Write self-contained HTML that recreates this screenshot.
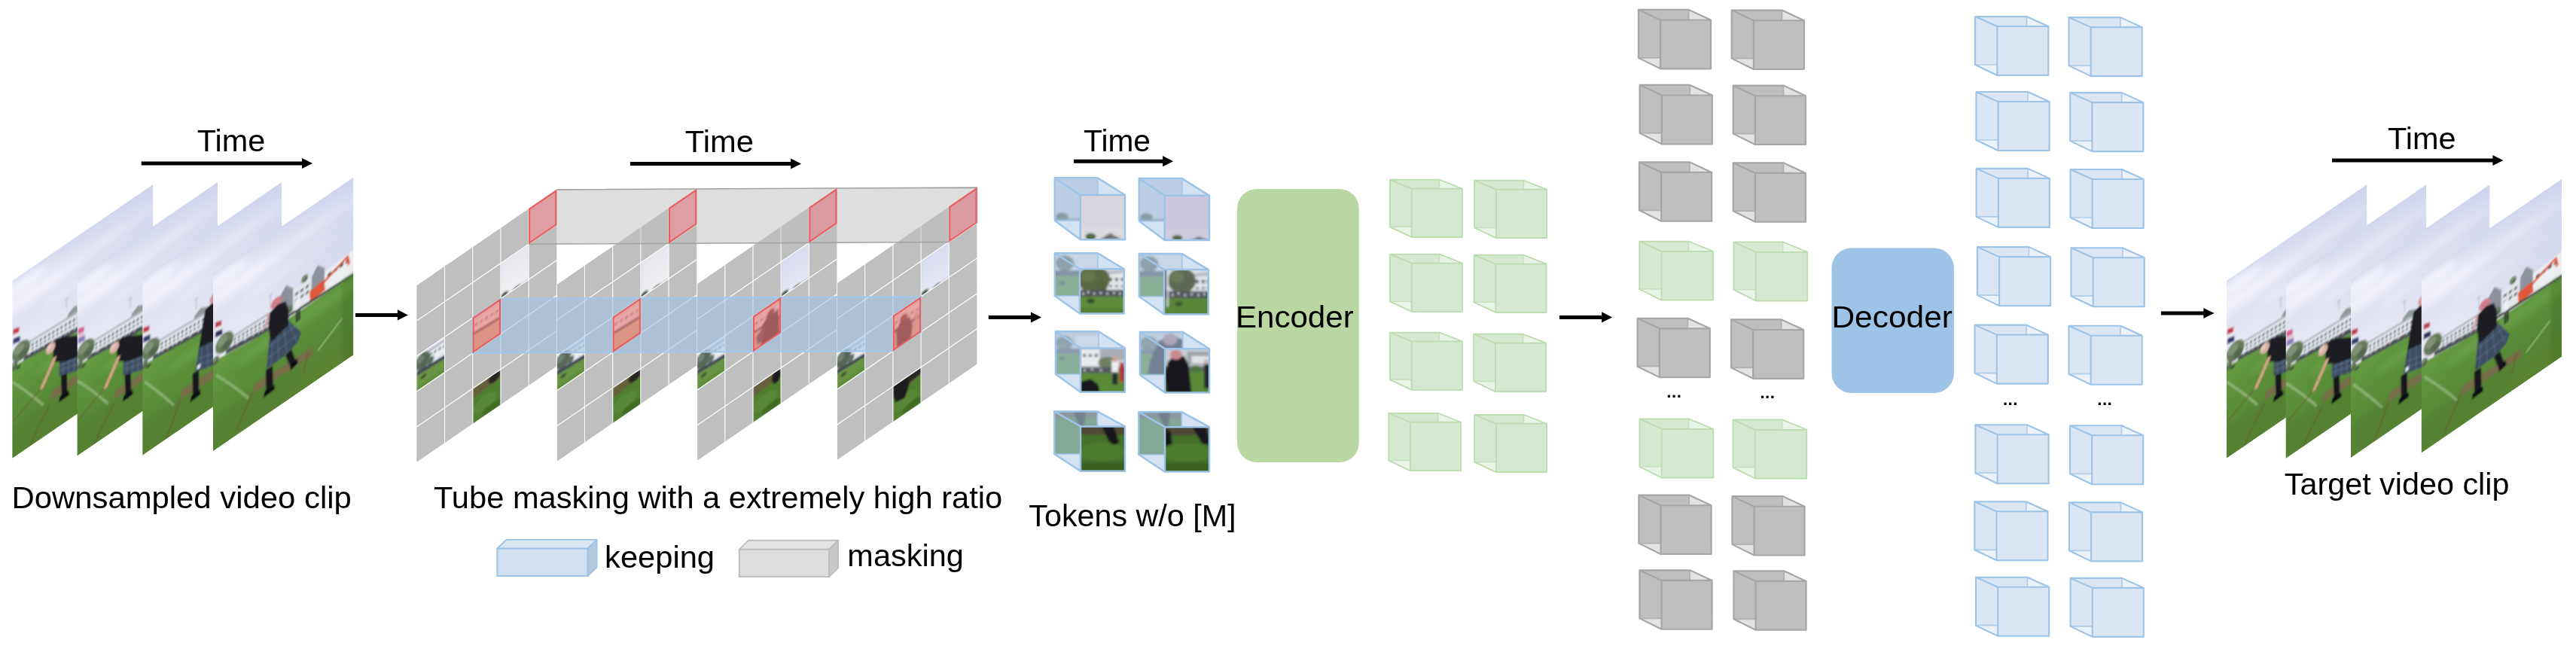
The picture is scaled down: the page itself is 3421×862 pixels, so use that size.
<!DOCTYPE html>
<html><head><meta charset="utf-8"><title>VideoMAE pipeline</title>
<style>html,body{margin:0;padding:0;background:#fff}svg{display:block}</style></head><body>
<svg width="3421" height="862" viewBox="0 0 3421 862" font-family="'Liberation Sans', Arial, sans-serif" fill="#000">
<defs>
<filter id="b1" x="-5%" y="-5%" width="110%" height="110%"><feGaussianBlur stdDeviation="0.95"/></filter>
<filter id="b2" x="-20%" y="-20%" width="140%" height="140%"><feGaussianBlur stdDeviation="2.2"/></filter>
<filter id="b3" x="-20%" y="-20%" width="140%" height="140%"><feGaussianBlur stdDeviation="5"/></filter>
<linearGradient id="sky" x1="0" y1="0" x2="0" y2="1"><stop offset="0" stop-color="#d5daf0"/><stop offset="0.07" stop-color="#e1e4f4"/><stop offset="0.15" stop-color="#ececf7"/><stop offset="0.25" stop-color="#e1e2f2"/><stop offset="0.36" stop-color="#e6e7f4"/><stop offset="0.5" stop-color="#e9e9f3"/><stop offset="1" stop-color="#ececf2"/></linearGradient>
<linearGradient id="grass" x1="0" y1="0" x2="0.25" y2="1"><stop offset="0" stop-color="#689c45"/><stop offset="0.35" stop-color="#5c903b"/><stop offset="0.75" stop-color="#578736"/><stop offset="1" stop-color="#5a8333"/></linearGradient>
<linearGradient id="skyr" x1="0" y1="0" x2="1" y2="0"><stop offset="0.25" stop-color="#c4cbec" stop-opacity="0"/><stop offset="1" stop-color="#c4cbec" stop-opacity="0.5"/></linearGradient>
<clipPath id="fc"><rect x="0" y="0" width="186" height="238"/></clipPath>
<g id="sc1"><g filter="url(#b1)"><rect x="-2" y="-2" width="190" height="242" fill="url(#sky)"/><g filter="url(#b3)" opacity="0.7"><ellipse cx="40" cy="36" rx="60" ry="7" fill="#f4f4fb"/><ellipse cx="150" cy="30" rx="50" ry="6" fill="#f6f6fc"/><ellipse cx="110" cy="62" rx="70" ry="8" fill="#efeff8"/><ellipse cx="14" cy="14" rx="32" ry="9" fill="#f8f8fd"/></g><rect x="-2" y="-2" width="190" height="110" fill="url(#skyr)"/><path d="M72 74V86M69.5 74h5" stroke="#a4a7b4" stroke-width="0.8" fill="none"/><polygon points="72,104 74,96 82,91 92,96 94,108" fill="#8f9a96" /><polygon points="23,96.5 190,108 190,140 23,117" fill="#e4e8ec" /><polygon points="23,96.5 190,108 190,111 23,99" fill="#aab1bb" /><rect x="25.5" y="102.46" width="2.6" height="3.31" fill="#56606d"/><rect x="25.5" y="108.04" width="2.6" height="2.69" fill="#6a7480"/><rect x="31" y="102.95" width="2.6" height="3.37" fill="#56606d"/><rect x="31" y="108.63" width="2.6" height="2.74" fill="#6a7480"/><rect x="36.5" y="103.43" width="2.6" height="3.43" fill="#56606d"/><rect x="36.5" y="109.22" width="2.6" height="2.79" fill="#6a7480"/><rect x="42" y="103.91" width="2.6" height="3.49" fill="#56606d"/><rect x="42" y="109.8" width="2.6" height="2.84" fill="#6a7480"/><rect x="47.5" y="104.4" width="2.6" height="3.55" fill="#56606d"/><rect x="47.5" y="110.39" width="2.6" height="2.88" fill="#6a7480"/><rect x="53" y="104.88" width="2.6" height="3.61" fill="#56606d"/><rect x="53" y="110.98" width="2.6" height="2.93" fill="#6a7480"/><rect x="58.5" y="105.37" width="2.6" height="3.67" fill="#56606d"/><rect x="58.5" y="111.56" width="2.6" height="2.98" fill="#6a7480"/><rect x="64" y="105.85" width="2.6" height="3.73" fill="#56606d"/><rect x="64" y="112.15" width="2.6" height="3.03" fill="#6a7480"/><rect x="69.5" y="106.34" width="2.6" height="3.79" fill="#56606d"/><rect x="69.5" y="112.74" width="2.6" height="3.08" fill="#6a7480"/><rect x="75" y="106.82" width="2.6" height="3.85" fill="#56606d"/><rect x="75" y="113.33" width="2.6" height="3.13" fill="#6a7480"/><rect x="80.5" y="107.31" width="2.6" height="3.91" fill="#56606d"/><rect x="80.5" y="113.91" width="2.6" height="3.18" fill="#6a7480"/><rect x="86" y="107.79" width="2.6" height="3.97" fill="#56606d"/><rect x="86" y="114.5" width="2.6" height="3.23" fill="#6a7480"/><rect x="91.5" y="108.28" width="2.6" height="4.03" fill="#56606d"/><rect x="91.5" y="115.09" width="2.6" height="3.28" fill="#6a7480"/><rect x="97" y="108.76" width="2.6" height="4.1" fill="#56606d"/><rect x="97" y="115.67" width="2.6" height="3.33" fill="#6a7480"/><rect x="102.5" y="109.25" width="2.6" height="4.16" fill="#56606d"/><rect x="102.5" y="116.26" width="2.6" height="3.38" fill="#6a7480"/><rect x="108" y="109.73" width="2.6" height="4.22" fill="#56606d"/><rect x="108" y="116.85" width="2.6" height="3.43" fill="#6a7480"/><rect x="113.5" y="110.22" width="2.6" height="4.28" fill="#56606d"/><rect x="113.5" y="117.43" width="2.6" height="3.48" fill="#6a7480"/><rect x="119" y="110.7" width="2.6" height="4.34" fill="#56606d"/><rect x="119" y="118.02" width="2.6" height="3.52" fill="#6a7480"/><rect x="124.5" y="111.19" width="2.6" height="4.4" fill="#56606d"/><rect x="124.5" y="118.61" width="2.6" height="3.57" fill="#6a7480"/><rect x="130" y="111.67" width="2.6" height="4.46" fill="#56606d"/><rect x="130" y="119.2" width="2.6" height="3.62" fill="#6a7480"/><rect x="135.5" y="112.16" width="2.6" height="4.52" fill="#56606d"/><rect x="135.5" y="119.78" width="2.6" height="3.67" fill="#6a7480"/><rect x="141" y="112.64" width="2.6" height="4.58" fill="#56606d"/><rect x="141" y="120.37" width="2.6" height="3.72" fill="#6a7480"/><rect x="146.5" y="113.13" width="2.6" height="4.64" fill="#56606d"/><rect x="146.5" y="120.96" width="2.6" height="3.77" fill="#6a7480"/><rect x="152" y="113.61" width="2.6" height="4.7" fill="#56606d"/><rect x="152" y="121.54" width="2.6" height="3.82" fill="#6a7480"/><rect x="157.5" y="114.1" width="2.6" height="4.76" fill="#56606d"/><rect x="157.5" y="122.13" width="2.6" height="3.87" fill="#6a7480"/><rect x="163" y="114.58" width="2.6" height="4.82" fill="#56606d"/><rect x="163" y="122.72" width="2.6" height="3.92" fill="#6a7480"/><rect x="168.5" y="115.06" width="2.6" height="4.88" fill="#56606d"/><rect x="168.5" y="123.31" width="2.6" height="3.97" fill="#6a7480"/><rect x="174" y="115.55" width="2.6" height="4.94" fill="#56606d"/><rect x="174" y="123.89" width="2.6" height="4.02" fill="#6a7480"/><rect x="179.5" y="116.03" width="2.6" height="5" fill="#56606d"/><rect x="179.5" y="124.48" width="2.6" height="4.07" fill="#6a7480"/><rect x="185" y="116.52" width="2.6" height="5.06" fill="#56606d"/><rect x="185" y="125.07" width="2.6" height="4.12" fill="#6a7480"/><polygon points="15,112 190,135 190,141.5 15,118.5" fill="#4b5358" /><rect x="17" y="112.17" width="1.6" height="2.2" fill="#8f3d48"/><rect x="22" y="112.86" width="1.6" height="2.2" fill="#d8d8de"/><rect x="27" y="113.55" width="1.6" height="2.2" fill="#3b4a78"/><rect x="29" y="113.83" width="1.6" height="2.2" fill="#bfc4cc"/><rect x="34" y="114.51" width="1.6" height="2.2" fill="#c9ccd6"/><rect x="39" y="115.2" width="1.6" height="2.2" fill="#8f3d48"/><rect x="41" y="115.48" width="1.6" height="2.2" fill="#d8d8de"/><rect x="46" y="116.17" width="1.6" height="2.2" fill="#3b4a78"/><rect x="51" y="116.86" width="1.6" height="2.2" fill="#bfc4cc"/><rect x="53" y="117.13" width="1.6" height="2.2" fill="#c9ccd6"/><rect x="58" y="117.82" width="1.6" height="2.2" fill="#8f3d48"/><rect x="63" y="118.51" width="1.6" height="2.2" fill="#d8d8de"/><rect x="65" y="118.78" width="1.6" height="2.2" fill="#3b4a78"/><rect x="70" y="119.47" width="1.6" height="2.2" fill="#bfc4cc"/><rect x="75" y="120.16" width="1.6" height="2.2" fill="#c9ccd6"/><rect x="77" y="120.44" width="1.6" height="2.2" fill="#8f3d48"/><rect x="82" y="121.13" width="1.6" height="2.2" fill="#d8d8de"/><rect x="87" y="121.81" width="1.6" height="2.2" fill="#3b4a78"/><rect x="89" y="122.09" width="1.6" height="2.2" fill="#bfc4cc"/><rect x="94" y="122.78" width="1.6" height="2.2" fill="#c9ccd6"/><rect x="99" y="123.47" width="1.6" height="2.2" fill="#8f3d48"/><rect x="101" y="123.74" width="1.6" height="2.2" fill="#d8d8de"/><rect x="106" y="124.43" width="1.6" height="2.2" fill="#3b4a78"/><rect x="111" y="125.12" width="1.6" height="2.2" fill="#bfc4cc"/><rect x="113" y="125.4" width="1.6" height="2.2" fill="#c9ccd6"/><rect x="118" y="126.08" width="1.6" height="2.2" fill="#8f3d48"/><rect x="123" y="126.77" width="1.6" height="2.2" fill="#d8d8de"/><rect x="125" y="127.05" width="1.6" height="2.2" fill="#3b4a78"/><rect x="130" y="127.74" width="1.6" height="2.2" fill="#bfc4cc"/><rect x="135" y="128.43" width="1.6" height="2.2" fill="#c9ccd6"/><rect x="137" y="128.7" width="1.6" height="2.2" fill="#8f3d48"/><rect x="142" y="129.39" width="1.6" height="2.2" fill="#d8d8de"/><rect x="147" y="130.08" width="1.6" height="2.2" fill="#3b4a78"/><rect x="149" y="130.35" width="1.6" height="2.2" fill="#bfc4cc"/><rect x="154" y="131.04" width="1.6" height="2.2" fill="#c9ccd6"/><rect x="159" y="131.73" width="1.6" height="2.2" fill="#8f3d48"/><rect x="161" y="132.01" width="1.6" height="2.2" fill="#d8d8de"/><rect x="166" y="132.69" width="1.6" height="2.2" fill="#3b4a78"/><rect x="171" y="133.38" width="1.6" height="2.2" fill="#bfc4cc"/><rect x="173" y="133.66" width="1.6" height="2.2" fill="#c9ccd6"/><rect x="178" y="134.35" width="1.6" height="2.2" fill="#8f3d48"/><polygon points="-2,115 86,128 188,142 188,242 -2,242" fill="url(#grass)" /><g filter="url(#b3)"><ellipse cx="40" cy="215" rx="80" ry="22" fill="#4d7a2e" opacity="0.4"/><ellipse cx="120" cy="145.5" rx="90" ry="10" fill="#78ab52" opacity="0.45"/></g><ellipse cx="11.5" cy="102" rx="12" ry="12.6" fill="#667a5c"/><ellipse cx="8.5" cy="97.8" rx="7.2" ry="6.6" fill="#7f9274"/><ellipse cx="15.1" cy="107.4" rx="6.6" ry="5.4" fill="#55694f"/><ellipse cx="2" cy="116" rx="5" ry="5.25" fill="#56694f"/><ellipse cx="0.75" cy="114.25" rx="3" ry="2.75" fill="#7f9274"/><ellipse cx="3.5" cy="118.25" rx="2.75" ry="2.25" fill="#55694f"/><ellipse cx="8" cy="121.5" rx="3.2" ry="2" fill="#3a5230"/><polygon points="1,66 9,68.5 9,75 1,73" fill="#c23b4a"/><polygon points="1,73 9,75 10,81 1,79" fill="#e8e8f0"/><polygon points="1,79 10,81 10.5,88 1,86" fill="#2f3d6e"/><polygon points="53,184 190,190.5 190,201.5 50,195" fill="#7b6a4c" opacity="0.9"/><path d="M0 136Q20.5 163.14 41 195" stroke="#d4e4c2" stroke-width="1.7" fill="none" opacity="0.62"/><path d="M37 171L2 189" stroke="#6a5632" stroke-width="1.7" opacity="0.75"/><path d="M50 200L36 218" stroke="#6a5632" stroke-width="1.7" opacity="0.75"/><path d="M34 220L22 240" stroke="#6a5632" stroke-width="1.7" opacity="0.75"/><g transform="translate(0 0)"><polygon points="64.5,170 72.5,172 73,200 65.5,201" fill="#17171c" /><polygon points="63,199 74,198 76,205 62,206" fill="#0f0f13" /><polygon points="62.5,150 100,160 100,186 62.5,171" fill="#3c4e63" /><path d="M68 152L67.5 172M75 154L75 175M82 156L82.5 178M89 158L90 181M63 157L100 168M63 164L100 177" stroke="#7c93a8" stroke-width="0.8" opacity="0.65" fill="none"/><polygon points="54.5,122 60,119.5 68,122 86,133 100,140 100,166 68,156 54,146" fill="#1b1b21" /><path d="M56 143L47 158L39.5 170" stroke="#d3a184" stroke-width="5" fill="none" stroke-linecap="round"/><ellipse cx="50.8" cy="125.6" rx="6.4" ry="6.8" fill="#d9b0a4"/><ellipse cx="49" cy="123.6" rx="3.5" ry="3.5" fill="#e6c8be"/></g></g></g>
<g id="sc2"><g filter="url(#b1)"><rect x="-2" y="-2" width="190" height="242" fill="url(#sky)"/><g filter="url(#b3)" opacity="0.7"><ellipse cx="40" cy="36" rx="60" ry="7" fill="#f4f4fb"/><ellipse cx="150" cy="30" rx="50" ry="6" fill="#f6f6fc"/><ellipse cx="110" cy="62" rx="70" ry="8" fill="#efeff8"/><ellipse cx="14" cy="14" rx="32" ry="9" fill="#f8f8fd"/></g><rect x="-2" y="-2" width="190" height="110" fill="url(#skyr)"/><path d="M70.5 75.5V87.5M68 75.5h5" stroke="#a4a7b4" stroke-width="0.8" fill="none"/><polygon points="70.5,105.5 72.5,97.5 80.5,92.5 90.5,97.5 92.5,109.5" fill="#8f9a96" /><polygon points="21.5,98 190,109.5 190,141.5 21.5,118.5" fill="#e4e8ec" /><polygon points="21.5,98 190,109.5 190,112.5 21.5,100.5" fill="#aab1bb" /><rect x="24" y="103.96" width="2.6" height="3.31" fill="#56606d"/><rect x="24" y="109.54" width="2.6" height="2.69" fill="#6a7480"/><rect x="29.5" y="104.44" width="2.6" height="3.37" fill="#56606d"/><rect x="29.5" y="110.12" width="2.6" height="2.74" fill="#6a7480"/><rect x="35" y="104.92" width="2.6" height="3.43" fill="#56606d"/><rect x="35" y="110.7" width="2.6" height="2.78" fill="#6a7480"/><rect x="40.5" y="105.4" width="2.6" height="3.49" fill="#56606d"/><rect x="40.5" y="111.28" width="2.6" height="2.83" fill="#6a7480"/><rect x="46" y="105.88" width="2.6" height="3.55" fill="#56606d"/><rect x="46" y="111.87" width="2.6" height="2.88" fill="#6a7480"/><rect x="51.5" y="106.36" width="2.6" height="3.61" fill="#56606d"/><rect x="51.5" y="112.45" width="2.6" height="2.93" fill="#6a7480"/><rect x="57" y="106.84" width="2.6" height="3.67" fill="#56606d"/><rect x="57" y="113.03" width="2.6" height="2.98" fill="#6a7480"/><rect x="62.5" y="107.32" width="2.6" height="3.73" fill="#56606d"/><rect x="62.5" y="113.61" width="2.6" height="3.03" fill="#6a7480"/><rect x="68" y="107.8" width="2.6" height="3.79" fill="#56606d"/><rect x="68" y="114.19" width="2.6" height="3.08" fill="#6a7480"/><rect x="73.5" y="108.28" width="2.6" height="3.85" fill="#56606d"/><rect x="73.5" y="114.78" width="2.6" height="3.13" fill="#6a7480"/><rect x="79" y="108.76" width="2.6" height="3.91" fill="#56606d"/><rect x="79" y="115.36" width="2.6" height="3.18" fill="#6a7480"/><rect x="84.5" y="109.24" width="2.6" height="3.97" fill="#56606d"/><rect x="84.5" y="115.94" width="2.6" height="3.22" fill="#6a7480"/><rect x="90" y="109.72" width="2.6" height="4.03" fill="#56606d"/><rect x="90" y="116.52" width="2.6" height="3.27" fill="#6a7480"/><rect x="95.5" y="110.2" width="2.6" height="4.09" fill="#56606d"/><rect x="95.5" y="117.1" width="2.6" height="3.32" fill="#6a7480"/><rect x="101" y="110.69" width="2.6" height="4.15" fill="#56606d"/><rect x="101" y="117.69" width="2.6" height="3.37" fill="#6a7480"/><rect x="106.5" y="111.17" width="2.6" height="4.21" fill="#56606d"/><rect x="106.5" y="118.27" width="2.6" height="3.42" fill="#6a7480"/><rect x="112" y="111.65" width="2.6" height="4.27" fill="#56606d"/><rect x="112" y="118.85" width="2.6" height="3.47" fill="#6a7480"/><rect x="117.5" y="112.13" width="2.6" height="4.33" fill="#56606d"/><rect x="117.5" y="119.43" width="2.6" height="3.52" fill="#6a7480"/><rect x="123" y="112.61" width="2.6" height="4.39" fill="#56606d"/><rect x="123" y="120.01" width="2.6" height="3.57" fill="#6a7480"/><rect x="128.5" y="113.09" width="2.6" height="4.45" fill="#56606d"/><rect x="128.5" y="120.59" width="2.6" height="3.61" fill="#6a7480"/><rect x="134" y="113.57" width="2.6" height="4.51" fill="#56606d"/><rect x="134" y="121.18" width="2.6" height="3.66" fill="#6a7480"/><rect x="139.5" y="114.05" width="2.6" height="4.57" fill="#56606d"/><rect x="139.5" y="121.76" width="2.6" height="3.71" fill="#6a7480"/><rect x="145" y="114.53" width="2.6" height="4.63" fill="#56606d"/><rect x="145" y="122.34" width="2.6" height="3.76" fill="#6a7480"/><rect x="150.5" y="115.01" width="2.6" height="4.69" fill="#56606d"/><rect x="150.5" y="122.92" width="2.6" height="3.81" fill="#6a7480"/><rect x="156" y="115.49" width="2.6" height="4.75" fill="#56606d"/><rect x="156" y="123.5" width="2.6" height="3.86" fill="#6a7480"/><rect x="161.5" y="115.97" width="2.6" height="4.81" fill="#56606d"/><rect x="161.5" y="124.09" width="2.6" height="3.91" fill="#6a7480"/><rect x="167" y="116.45" width="2.6" height="4.87" fill="#56606d"/><rect x="167" y="124.67" width="2.6" height="3.96" fill="#6a7480"/><rect x="172.5" y="116.93" width="2.6" height="4.93" fill="#56606d"/><rect x="172.5" y="125.25" width="2.6" height="4" fill="#6a7480"/><rect x="178" y="117.41" width="2.6" height="4.99" fill="#56606d"/><rect x="178" y="125.83" width="2.6" height="4.05" fill="#6a7480"/><rect x="183.5" y="117.89" width="2.6" height="5.05" fill="#56606d"/><rect x="183.5" y="126.41" width="2.6" height="4.1" fill="#6a7480"/><polygon points="13.5,113.5 190,136.5 190,143 13.5,120" fill="#4b5358" /><rect x="15.5" y="113.68" width="1.6" height="2.2" fill="#d8d8de"/><rect x="20.5" y="114.36" width="1.6" height="2.2" fill="#3b4a78"/><rect x="25.5" y="115.05" width="1.6" height="2.2" fill="#bfc4cc"/><rect x="27.5" y="115.32" width="1.6" height="2.2" fill="#c9ccd6"/><rect x="32.5" y="116" width="1.6" height="2.2" fill="#8f3d48"/><rect x="37.5" y="116.68" width="1.6" height="2.2" fill="#d8d8de"/><rect x="39.5" y="116.96" width="1.6" height="2.2" fill="#3b4a78"/><rect x="44.5" y="117.64" width="1.6" height="2.2" fill="#bfc4cc"/><rect x="49.5" y="118.32" width="1.6" height="2.2" fill="#c9ccd6"/><rect x="51.5" y="118.59" width="1.6" height="2.2" fill="#8f3d48"/><rect x="56.5" y="119.28" width="1.6" height="2.2" fill="#d8d8de"/><rect x="61.5" y="119.96" width="1.6" height="2.2" fill="#3b4a78"/><rect x="63.5" y="120.23" width="1.6" height="2.2" fill="#bfc4cc"/><rect x="68.5" y="120.92" width="1.6" height="2.2" fill="#c9ccd6"/><rect x="73.5" y="121.6" width="1.6" height="2.2" fill="#8f3d48"/><rect x="75.5" y="121.87" width="1.6" height="2.2" fill="#d8d8de"/><rect x="80.5" y="122.55" width="1.6" height="2.2" fill="#3b4a78"/><rect x="85.5" y="123.24" width="1.6" height="2.2" fill="#bfc4cc"/><rect x="87.5" y="123.51" width="1.6" height="2.2" fill="#c9ccd6"/><rect x="92.5" y="124.19" width="1.6" height="2.2" fill="#8f3d48"/><rect x="97.5" y="124.87" width="1.6" height="2.2" fill="#d8d8de"/><rect x="99.5" y="125.15" width="1.6" height="2.2" fill="#3b4a78"/><rect x="104.5" y="125.83" width="1.6" height="2.2" fill="#bfc4cc"/><rect x="109.5" y="126.51" width="1.6" height="2.2" fill="#c9ccd6"/><rect x="111.5" y="126.78" width="1.6" height="2.2" fill="#8f3d48"/><rect x="116.5" y="127.47" width="1.6" height="2.2" fill="#d8d8de"/><rect x="121.5" y="128.15" width="1.6" height="2.2" fill="#3b4a78"/><rect x="123.5" y="128.42" width="1.6" height="2.2" fill="#bfc4cc"/><rect x="128.5" y="129.11" width="1.6" height="2.2" fill="#c9ccd6"/><rect x="133.5" y="129.79" width="1.6" height="2.2" fill="#8f3d48"/><rect x="135.5" y="130.06" width="1.6" height="2.2" fill="#d8d8de"/><rect x="140.5" y="130.74" width="1.6" height="2.2" fill="#3b4a78"/><rect x="145.5" y="131.43" width="1.6" height="2.2" fill="#bfc4cc"/><rect x="147.5" y="131.7" width="1.6" height="2.2" fill="#c9ccd6"/><rect x="152.5" y="132.38" width="1.6" height="2.2" fill="#8f3d48"/><rect x="157.5" y="133.06" width="1.6" height="2.2" fill="#d8d8de"/><rect x="159.5" y="133.34" width="1.6" height="2.2" fill="#3b4a78"/><rect x="164.5" y="134.02" width="1.6" height="2.2" fill="#bfc4cc"/><rect x="169.5" y="134.7" width="1.6" height="2.2" fill="#c9ccd6"/><rect x="171.5" y="134.97" width="1.6" height="2.2" fill="#8f3d48"/><rect x="176.5" y="135.66" width="1.6" height="2.2" fill="#d8d8de"/><rect x="181.5" y="136.34" width="1.6" height="2.2" fill="#3b4a78"/><polygon points="-2,116.5 86,129.5 188,143.5 188,242 -2,242" fill="url(#grass)" /><g filter="url(#b3)"><ellipse cx="40" cy="215" rx="80" ry="22" fill="#4d7a2e" opacity="0.4"/><ellipse cx="120" cy="147" rx="90" ry="10" fill="#78ab52" opacity="0.45"/></g><ellipse cx="11.05" cy="103.5" rx="12" ry="12.6" fill="#667a5c"/><ellipse cx="8.05" cy="99.3" rx="7.2" ry="6.6" fill="#7f9274"/><ellipse cx="14.65" cy="108.9" rx="6.6" ry="5.4" fill="#55694f"/><ellipse cx="2" cy="117.5" rx="5" ry="5.25" fill="#56694f"/><ellipse cx="0.75" cy="115.75" rx="3" ry="2.75" fill="#7f9274"/><ellipse cx="3.5" cy="119.75" rx="2.75" ry="2.25" fill="#55694f"/><ellipse cx="8" cy="123" rx="3.2" ry="2" fill="#3a5230"/><polygon points="1,68.5 9,71 9,77.5 1,75.5" fill="#d45f8c"/><polygon points="1,75.5 9,77.5 10,83.5 1,81.5" fill="#e6bfd2"/><polygon points="1,81.5 10,83.5 10.5,90.5 1,88.5" fill="#8a7fb4"/><polygon points="51.5,185.5 190,192 190,203 48.5,196.5" fill="#7b6a4c" opacity="0.9"/><path d="M0 137.5Q20.5 164.64 41 196.5" stroke="#d4e4c2" stroke-width="1.7" fill="none" opacity="0.62"/><path d="M35.5 172.5L2 190.5" stroke="#6a5632" stroke-width="1.7" opacity="0.75"/><path d="M48.5 201.5L36 219.5" stroke="#6a5632" stroke-width="1.7" opacity="0.75"/><path d="M34 220L22 240" stroke="#6a5632" stroke-width="1.7" opacity="0.75"/><g transform="translate(-1.5 1.5)"><polygon points="64.5,170 72.5,172 73,200 65.5,201" fill="#17171c" /><polygon points="63,199 74,198 76,205 62,206" fill="#0f0f13" /><polygon points="62.5,150 100,160 100,186 62.5,171" fill="#3c4e63" /><path d="M68 152L67.5 172M75 154L75 175M82 156L82.5 178M89 158L90 181M63 157L100 168M63 164L100 177" stroke="#7c93a8" stroke-width="0.8" opacity="0.65" fill="none"/><polygon points="54.5,122 60,119.5 68,122 86,133 100,140 100,166 68,156 54,146" fill="#1b1b21" /><path d="M56 143L47 158L39.5 170" stroke="#d3a184" stroke-width="5" fill="none" stroke-linecap="round"/><ellipse cx="50.8" cy="125.6" rx="6.4" ry="6.8" fill="#d9b0a4"/><ellipse cx="49" cy="123.6" rx="3.5" ry="3.5" fill="#e6c8be"/></g></g></g>
<g id="sc3"><g filter="url(#b1)"><rect x="-2" y="-2" width="190" height="242" fill="url(#sky)"/><g filter="url(#b3)" opacity="0.7"><ellipse cx="40" cy="36" rx="60" ry="7" fill="#f4f4fb"/><ellipse cx="150" cy="30" rx="50" ry="6" fill="#f6f6fc"/><ellipse cx="110" cy="62" rx="70" ry="8" fill="#efeff8"/><ellipse cx="14" cy="14" rx="32" ry="9" fill="#f8f8fd"/></g><rect x="-2" y="-2" width="190" height="110" fill="url(#skyr)"/><path d="M72 78V92M69.5 78h5" stroke="#a4a7b4" stroke-width="0.8" fill="none"/><polygon points="68,106 70,99 78,94 88,99 90,112" fill="#8f9a96" /><polygon points="22,98.5 190,114 190,143 22,119" fill="#e4e8ec" /><polygon points="22,98.5 190,114 190,117 22,101" fill="#aab1bb" /><rect x="24.5" y="104.51" width="2.6" height="3.3" fill="#56606d"/><rect x="24.5" y="110.08" width="2.6" height="2.68" fill="#6a7480"/><rect x="30" y="105.09" width="2.6" height="3.34" fill="#56606d"/><rect x="30" y="110.74" width="2.6" height="2.72" fill="#6a7480"/><rect x="35.5" y="105.68" width="2.6" height="3.39" fill="#56606d"/><rect x="35.5" y="111.4" width="2.6" height="2.75" fill="#6a7480"/><rect x="41" y="106.26" width="2.6" height="3.43" fill="#56606d"/><rect x="41" y="112.06" width="2.6" height="2.79" fill="#6a7480"/><rect x="46.5" y="106.85" width="2.6" height="3.48" fill="#56606d"/><rect x="46.5" y="112.72" width="2.6" height="2.83" fill="#6a7480"/><rect x="52" y="107.43" width="2.6" height="3.52" fill="#56606d"/><rect x="52" y="113.38" width="2.6" height="2.86" fill="#6a7480"/><rect x="57.5" y="108.02" width="2.6" height="3.57" fill="#56606d"/><rect x="57.5" y="114.04" width="2.6" height="2.9" fill="#6a7480"/><rect x="63" y="108.6" width="2.6" height="3.61" fill="#56606d"/><rect x="63" y="114.7" width="2.6" height="2.93" fill="#6a7480"/><rect x="68.5" y="109.19" width="2.6" height="3.66" fill="#56606d"/><rect x="68.5" y="115.36" width="2.6" height="2.97" fill="#6a7480"/><rect x="74" y="109.77" width="2.6" height="3.7" fill="#56606d"/><rect x="74" y="116.02" width="2.6" height="3.01" fill="#6a7480"/><rect x="79.5" y="110.36" width="2.6" height="3.75" fill="#56606d"/><rect x="79.5" y="116.68" width="2.6" height="3.04" fill="#6a7480"/><rect x="85" y="110.94" width="2.6" height="3.79" fill="#56606d"/><rect x="85" y="117.34" width="2.6" height="3.08" fill="#6a7480"/><rect x="90.5" y="111.53" width="2.6" height="3.83" fill="#56606d"/><rect x="90.5" y="118" width="2.6" height="3.12" fill="#6a7480"/><rect x="96" y="112.12" width="2.6" height="3.88" fill="#56606d"/><rect x="96" y="118.66" width="2.6" height="3.15" fill="#6a7480"/><rect x="101.5" y="112.7" width="2.6" height="3.92" fill="#56606d"/><rect x="101.5" y="119.32" width="2.6" height="3.19" fill="#6a7480"/><rect x="107" y="113.29" width="2.6" height="3.97" fill="#56606d"/><rect x="107" y="119.98" width="2.6" height="3.22" fill="#6a7480"/><rect x="112.5" y="113.87" width="2.6" height="4.01" fill="#56606d"/><rect x="112.5" y="120.64" width="2.6" height="3.26" fill="#6a7480"/><rect x="118" y="114.46" width="2.6" height="4.06" fill="#56606d"/><rect x="118" y="121.3" width="2.6" height="3.3" fill="#6a7480"/><rect x="123.5" y="115.04" width="2.6" height="4.1" fill="#56606d"/><rect x="123.5" y="121.96" width="2.6" height="3.33" fill="#6a7480"/><rect x="129" y="115.63" width="2.6" height="4.15" fill="#56606d"/><rect x="129" y="122.62" width="2.6" height="3.37" fill="#6a7480"/><rect x="134.5" y="116.21" width="2.6" height="4.19" fill="#56606d"/><rect x="134.5" y="123.29" width="2.6" height="3.4" fill="#6a7480"/><rect x="140" y="116.8" width="2.6" height="4.24" fill="#56606d"/><rect x="140" y="123.95" width="2.6" height="3.44" fill="#6a7480"/><rect x="145.5" y="117.38" width="2.6" height="4.28" fill="#56606d"/><rect x="145.5" y="124.61" width="2.6" height="3.48" fill="#6a7480"/><rect x="151" y="117.97" width="2.6" height="4.32" fill="#56606d"/><rect x="151" y="125.27" width="2.6" height="3.51" fill="#6a7480"/><rect x="156.5" y="118.55" width="2.6" height="4.37" fill="#56606d"/><rect x="156.5" y="125.93" width="2.6" height="3.55" fill="#6a7480"/><rect x="162" y="119.14" width="2.6" height="4.41" fill="#56606d"/><rect x="162" y="126.59" width="2.6" height="3.59" fill="#6a7480"/><rect x="167.5" y="119.73" width="2.6" height="4.46" fill="#56606d"/><rect x="167.5" y="127.25" width="2.6" height="3.62" fill="#6a7480"/><rect x="173" y="120.31" width="2.6" height="4.5" fill="#56606d"/><rect x="173" y="127.91" width="2.6" height="3.66" fill="#6a7480"/><rect x="178.5" y="120.9" width="2.6" height="4.55" fill="#56606d"/><rect x="178.5" y="128.57" width="2.6" height="3.69" fill="#6a7480"/><rect x="184" y="121.48" width="2.6" height="4.59" fill="#56606d"/><rect x="184" y="129.23" width="2.6" height="3.73" fill="#6a7480"/><polygon points="14,114 190,138 190,144.5 14,120.5" fill="#4b5358" /><rect x="16" y="114.14" width="1.6" height="2.2" fill="#3b4a78"/><rect x="21" y="114.86" width="1.6" height="2.2" fill="#bfc4cc"/><rect x="26" y="115.57" width="1.6" height="2.2" fill="#c9ccd6"/><rect x="28" y="115.86" width="1.6" height="2.2" fill="#8f3d48"/><rect x="33" y="116.57" width="1.6" height="2.2" fill="#d8d8de"/><rect x="38" y="117.29" width="1.6" height="2.2" fill="#3b4a78"/><rect x="40" y="117.57" width="1.6" height="2.2" fill="#bfc4cc"/><rect x="45" y="118.29" width="1.6" height="2.2" fill="#c9ccd6"/><rect x="50" y="119" width="1.6" height="2.2" fill="#8f3d48"/><rect x="52" y="119.29" width="1.6" height="2.2" fill="#d8d8de"/><rect x="57" y="120" width="1.6" height="2.2" fill="#3b4a78"/><rect x="62" y="120.71" width="1.6" height="2.2" fill="#bfc4cc"/><rect x="64" y="121" width="1.6" height="2.2" fill="#c9ccd6"/><rect x="69" y="121.71" width="1.6" height="2.2" fill="#8f3d48"/><rect x="74" y="122.43" width="1.6" height="2.2" fill="#d8d8de"/><rect x="76" y="122.71" width="1.6" height="2.2" fill="#3b4a78"/><rect x="81" y="123.43" width="1.6" height="2.2" fill="#bfc4cc"/><rect x="86" y="124.14" width="1.6" height="2.2" fill="#c9ccd6"/><rect x="88" y="124.43" width="1.6" height="2.2" fill="#8f3d48"/><rect x="93" y="125.14" width="1.6" height="2.2" fill="#d8d8de"/><rect x="98" y="125.86" width="1.6" height="2.2" fill="#3b4a78"/><rect x="100" y="126.14" width="1.6" height="2.2" fill="#bfc4cc"/><rect x="105" y="126.86" width="1.6" height="2.2" fill="#c9ccd6"/><rect x="110" y="127.57" width="1.6" height="2.2" fill="#8f3d48"/><rect x="112" y="127.86" width="1.6" height="2.2" fill="#d8d8de"/><rect x="117" y="128.57" width="1.6" height="2.2" fill="#3b4a78"/><rect x="122" y="129.29" width="1.6" height="2.2" fill="#bfc4cc"/><rect x="124" y="129.57" width="1.6" height="2.2" fill="#c9ccd6"/><rect x="129" y="130.29" width="1.6" height="2.2" fill="#8f3d48"/><rect x="134" y="131" width="1.6" height="2.2" fill="#d8d8de"/><rect x="136" y="131.29" width="1.6" height="2.2" fill="#3b4a78"/><rect x="141" y="132" width="1.6" height="2.2" fill="#bfc4cc"/><rect x="146" y="132.71" width="1.6" height="2.2" fill="#c9ccd6"/><rect x="148" y="133" width="1.6" height="2.2" fill="#8f3d48"/><rect x="153" y="133.71" width="1.6" height="2.2" fill="#d8d8de"/><rect x="158" y="134.43" width="1.6" height="2.2" fill="#3b4a78"/><rect x="160" y="134.71" width="1.6" height="2.2" fill="#bfc4cc"/><rect x="165" y="135.43" width="1.6" height="2.2" fill="#c9ccd6"/><rect x="170" y="136.14" width="1.6" height="2.2" fill="#8f3d48"/><rect x="172" y="136.43" width="1.6" height="2.2" fill="#d8d8de"/><rect x="177" y="137.14" width="1.6" height="2.2" fill="#3b4a78"/><rect x="182" y="137.86" width="1.6" height="2.2" fill="#bfc4cc"/><polygon points="-2,117 77,128.5 188,145 188,242 -2,242" fill="url(#grass)" /><g filter="url(#b3)"><ellipse cx="40" cy="215" rx="80" ry="22" fill="#4d7a2e" opacity="0.4"/><ellipse cx="120" cy="148" rx="90" ry="10" fill="#78ab52" opacity="0.45"/></g><ellipse cx="11" cy="103" rx="12" ry="12.6" fill="#667a5c"/><ellipse cx="8" cy="98.8" rx="7.2" ry="6.6" fill="#7f9274"/><ellipse cx="14.6" cy="108.4" rx="6.6" ry="5.4" fill="#55694f"/><ellipse cx="2" cy="118" rx="5" ry="5.25" fill="#56694f"/><ellipse cx="0.75" cy="116.25" rx="3" ry="2.75" fill="#7f9274"/><ellipse cx="3.5" cy="120.25" rx="2.75" ry="2.25" fill="#55694f"/><ellipse cx="8" cy="124" rx="3.2" ry="2" fill="#3a5230"/><polygon points="1,68 9,70.5 9,77 1,75" fill="#c23b4a"/><polygon points="1,75 9,77 10,83 1,81" fill="#e8e8f0"/><polygon points="1,81 10,83 10.5,90 1,88" fill="#2f3d6e"/><polygon points="53,186.5 190,193.5 190,204.5 50,197.5" fill="#7b6a4c" opacity="0.9"/><path d="M3 142Q22.5 168.68 42 200" stroke="#d4e4c2" stroke-width="1.7" fill="none" opacity="0.62"/><path d="M50 198L40 222" stroke="#6a5632" stroke-width="1.7" opacity="0.75"/><path d="M40 222L30 240" stroke="#6a5632" stroke-width="1.7" opacity="0.75"/><polygon points="67,175 75.5,176 75.5,206 67.5,207" fill="#16161b" /><polygon points="65,204 77,203 78,210 64,211" fill="#0f0f13" /><polygon points="76,144 100,152 112,188 70.8,175" fill="#3c4e63" /><path d="M80 146L78 177M87 148L88 181M94 150L98 184M73 160L106 170M72 168L109 179" stroke="#7c93a8" stroke-width="0.8" opacity="0.65" fill="none"/><polygon points="84,101 96,97 112,104 112,154 76,146 80,122" fill="#1a1a20" /><ellipse cx="75.3" cy="171" rx="2.4" ry="3" fill="#e8e8ee"/><ellipse cx="96" cy="93" rx="6" ry="6.5" fill="#d59aa0"/></g></g>
<g id="sc4"><g filter="url(#b1)"><rect x="-2" y="-2" width="190" height="242" fill="url(#sky)"/><g filter="url(#b3)" opacity="0.7"><ellipse cx="40" cy="36" rx="60" ry="7" fill="#f4f4fb"/><ellipse cx="150" cy="30" rx="50" ry="6" fill="#f6f6fc"/><ellipse cx="110" cy="62" rx="70" ry="8" fill="#efeff8"/><ellipse cx="14" cy="14" rx="32" ry="9" fill="#f8f8fd"/></g><rect x="-2" y="-2" width="190" height="110" fill="url(#skyr)"/><path d="M76 82V100M73.5 82h5" stroke="#a4a7b4" stroke-width="0.8" fill="none"/><polygon points="25,101.5 82,104 82,128 25,118.5" fill="#e4e8ec" /><polygon points="25,101.5 82,104 82,107 25,104" fill="#aab1bb" /><rect x="27.5" y="106.46" width="2.6" height="2.77" fill="#56606d"/><rect x="27.5" y="111.13" width="2.6" height="2.25" fill="#6a7480"/><rect x="33" y="106.89" width="2.6" height="2.88" fill="#56606d"/><rect x="33" y="111.74" width="2.6" height="2.34" fill="#6a7480"/><rect x="38.5" y="107.32" width="2.6" height="2.99" fill="#56606d"/><rect x="38.5" y="112.35" width="2.6" height="2.43" fill="#6a7480"/><rect x="44" y="107.75" width="2.6" height="3.09" fill="#56606d"/><rect x="44" y="112.97" width="2.6" height="2.51" fill="#6a7480"/><rect x="49.5" y="108.18" width="2.6" height="3.2" fill="#56606d"/><rect x="49.5" y="113.58" width="2.6" height="2.6" fill="#6a7480"/><rect x="55" y="108.61" width="2.6" height="3.31" fill="#56606d"/><rect x="55" y="114.19" width="2.6" height="2.69" fill="#6a7480"/><rect x="60.5" y="109.04" width="2.6" height="3.42" fill="#56606d"/><rect x="60.5" y="114.8" width="2.6" height="2.78" fill="#6a7480"/><rect x="66" y="109.47" width="2.6" height="3.53" fill="#56606d"/><rect x="66" y="115.42" width="2.6" height="2.86" fill="#6a7480"/><rect x="71.5" y="109.9" width="2.6" height="3.63" fill="#56606d"/><rect x="71.5" y="116.03" width="2.6" height="2.95" fill="#6a7480"/><rect x="77" y="110.33" width="2.6" height="3.74" fill="#56606d"/><rect x="77" y="116.64" width="2.6" height="3.04" fill="#6a7480"/><polygon points="17,113.5 82,123 82,129.5 17,120" fill="#4b5358" /><rect x="19" y="113.5" width="1.6" height="2.2" fill="#bfc4cc"/><rect x="24" y="114.33" width="1.6" height="2.2" fill="#c9ccd6"/><rect x="29" y="115.17" width="1.6" height="2.2" fill="#8f3d48"/><rect x="31" y="115.5" width="1.6" height="2.2" fill="#d8d8de"/><rect x="36" y="116.33" width="1.6" height="2.2" fill="#3b4a78"/><rect x="41" y="117.17" width="1.6" height="2.2" fill="#bfc4cc"/><rect x="43" y="117.5" width="1.6" height="2.2" fill="#c9ccd6"/><rect x="48" y="118.33" width="1.6" height="2.2" fill="#8f3d48"/><rect x="53" y="119.17" width="1.6" height="2.2" fill="#d8d8de"/><rect x="55" y="119.5" width="1.6" height="2.2" fill="#3b4a78"/><rect x="60" y="120.33" width="1.6" height="2.2" fill="#bfc4cc"/><rect x="65" y="121.17" width="1.6" height="2.2" fill="#c9ccd6"/><rect x="67" y="121.5" width="1.6" height="2.2" fill="#8f3d48"/><rect x="72" y="122.33" width="1.6" height="2.2" fill="#d8d8de"/><polygon points="86,122 88,93 97,83 106,93 106,124" fill="#8b919b" /><polygon points="106,97 131,95 131,126 106,124" fill="#e3e6ea" /><path d="M109 104h4M116 104h4M123 104h4M109 112h4M116 112h4M123 112h4" stroke="#5a6470" stroke-width="3.2"/><ellipse cx="121.5" cy="91" rx="4.5" ry="4.73" fill="#5f8052"/><ellipse cx="120.38" cy="89.42" rx="2.7" ry="2.48" fill="#7f9274"/><ellipse cx="122.85" cy="93.03" rx="2.48" ry="2.02" fill="#55694f"/><polygon points="130,124 131,95 139,85 148,95 148,124" fill="#8d939d" /><polygon points="148,101 188,97 188,130 148,127" fill="#eceef0" /><path d="M152 108h5M160 107.6h5M168 107.2h5M176 106.8h5" stroke="#4f5965" stroke-width="4"/><ellipse cx="100" cy="118" rx="5" ry="5.25" fill="#5d7558"/><ellipse cx="98.75" cy="116.25" rx="3" ry="2.75" fill="#7f9274"/><ellipse cx="101.5" cy="120.25" rx="2.75" ry="2.25" fill="#55694f"/><polygon points="128,113 146,110 149,125 129,127" fill="#e0583a" /><path d="M143 115L178 101L180.5 113" stroke="#e0583a" stroke-width="3.2" fill="none" stroke-linejoin="round"/><path d="M84 125.5L188 130" stroke="#3f4846" stroke-width="3.5"/><polygon points="-2,118 24,121.5 48,125 98,130 188,131 188,242 -2,242" fill="url(#grass)" /><g filter="url(#b3)"><ellipse cx="40" cy="215" rx="80" ry="22" fill="#4d7a2e" opacity="0.4"/><ellipse cx="120" cy="142.5" rx="90" ry="10" fill="#78ab52" opacity="0.45"/></g><ellipse cx="15" cy="103" rx="12" ry="12.6" fill="#667a5c"/><ellipse cx="12" cy="98.8" rx="7.2" ry="6.6" fill="#7f9274"/><ellipse cx="18.6" cy="108.4" rx="6.6" ry="5.4" fill="#55694f"/><ellipse cx="3" cy="119" rx="5" ry="5.25" fill="#56694f"/><ellipse cx="1.75" cy="117.25" rx="3" ry="2.75" fill="#7f9274"/><ellipse cx="4.5" cy="121.25" rx="2.75" ry="2.25" fill="#55694f"/><polygon points="3,68 11,70.5 11,77 3,75" fill="#b8404c"/><polygon points="3,75 11,77 12,83 3,81" fill="#e8e8f0"/><polygon points="3,81 12,83 12.5,90 3,88" fill="#2b3258"/><rect x="109.5" y="111" width="6" height="15" fill="#eeeef2"/><rect x="110" y="126" width="2.2" height="16" fill="#20222a"/><rect x="113.3" y="126" width="2.2" height="16" fill="#20222a"/><polygon points="55,186.5 132,190.5 132,201.5 52,197.5" fill="#7b6a4c" opacity="0.9"/><path d="M4 139Q25.5 167.06 47 200" stroke="#d4e4c2" stroke-width="1.7" fill="none" opacity="0.62"/><path d="M52 196L30 234" stroke="#6a5632" stroke-width="1.7" opacity="0.75"/><path d="M126 192L120 216" stroke="#6a5632" stroke-width="1.7" opacity="0.75"/><path d="M139 200L171 179" stroke="#c4dcae" stroke-width="1.5" opacity="0.8"/><polygon points="70,178 79,178.5 79.5,208 70.5,209" fill="#16161b" /><polygon points="68,206 81,205 82,212 67,213" fill="#0f0f13" /><polygon points="96,176 104,174 110,194 103,197" fill="#16161b" /><polygon points="102,193 111,191 113,198 103,201" fill="#0f0f13" /><polygon points="75,136 99,130 117,160 112,170 96,176 71,177" fill="#3c4e63" /><path d="M79 139L77 177M86 135L87 177M93 132L98 174M100 134L111 168M73 150L111 146M72 164L114 160" stroke="#7c93a8" stroke-width="0.8" opacity="0.65" fill="none"/><ellipse cx="84" cy="97.5" rx="7.5" ry="7" fill="#cf7f8a"/><polygon points="75,105 86,101 96,104 100,116 100,138 77,145 73.5,124" fill="#1a1a20" /><path d="M74 106L69 120" stroke="#d6a0a0" stroke-width="3" stroke-linecap="round"/><rect x="172" y="128" width="18" height="115" fill="#3f6a28" opacity="0.3" filter="url(#b2)"/></g></g>
<filter id="b1c" x="-10%" y="-10%" width="120%" height="120%"><feGaussianBlur stdDeviation="1.3"/></filter>
<clipPath id="ccell"><rect x="0" y="0" width="37.18" height="46.92"/></clipPath>
<linearGradient id="skc0" x1="0" y1="0" x2="0" y2="1"><stop offset="0" stop-color="#e6e6ee"/><stop offset="1" stop-color="#efeff3"/></linearGradient>
<linearGradient id="skc1" x1="0" y1="0" x2="0" y2="1"><stop offset="0" stop-color="#e6e6ee"/><stop offset="1" stop-color="#efeff3"/></linearGradient>
<linearGradient id="skc2" x1="0" y1="0" x2="0" y2="1"><stop offset="0" stop-color="#d9dcf2"/><stop offset="1" stop-color="#e6e8f6"/></linearGradient>
<linearGradient id="skc3" x1="0" y1="0" x2="0" y2="1"><stop offset="0" stop-color="#d9dcf2"/><stop offset="1" stop-color="#e6e8f6"/></linearGradient>
<filter id="b1t" x="-10%" y="-10%" width="120%" height="120%"><feGaussianBlur stdDeviation="1.5"/></filter>
</defs>
<g transform="matrix(1,-0.6835,0,0.99,16.4,372.8)" clip-path="url(#fc)" ><use href="#sc1"/></g>
<g transform="matrix(1,-0.6850,0,0.99,102.6,369.6)" clip-path="url(#fc)" ><use href="#sc2"/></g>
<g transform="matrix(0.99,-0.6798,0,0.99,189.3,368.8)" clip-path="url(#fc)" ><use href="#sc3"/></g>
<g transform="matrix(1,-0.6850,0,0.99,283,363.2)" clip-path="url(#fc)" ><use href="#sc4"/></g>
<text x="261.79" y="201" font-size="41.5" textLength="90.53" lengthAdjust="spacingAndGlyphs">Time</text>
<path d="M187.7 214.5H402V219.5H187.7Z"/>
<path d="M401 209.9L415 217L401 224.1Z"/>
<text x="15.47" y="674.7" font-size="41.5" textLength="451.29" lengthAdjust="spacingAndGlyphs">Downsampled video clip</text>
<path d="M472 415.9H528.9V420.9H472Z"/>
<path d="M527.9 411.3L541.9 418.4L527.9 425.5Z"/>
<g transform="matrix(1,-0.6843,0,0.99,2957,372.7)" clip-path="url(#fc)" ><use href="#sc1"/></g>
<g transform="matrix(1,-0.6854,0,0.99,3035.7,372.9)" clip-path="url(#fc)" ><use href="#sc2"/></g>
<g transform="matrix(0.99,-0.6806,0,0.99,3122,372)" clip-path="url(#fc)" ><use href="#sc3"/></g>
<g transform="matrix(1,-0.6865,0,0.99,3215.8,365.6)" clip-path="url(#fc)" ><use href="#sc4"/></g>
<text x="3170.99" y="197.8" font-size="41.5" textLength="90.53" lengthAdjust="spacingAndGlyphs">Time</text>
<path d="M3097 210.5H3311.4V215.5H3097Z"/>
<path d="M3310.4 205.9L3324.4 213L3310.4 220.1Z"/>
<text x="3033.79" y="656.8" font-size="41.5" textLength="298.62" lengthAdjust="spacingAndGlyphs">Target video clip</text>
<path d="M2869.9 413.5H2927.4V418.5H2869.9Z"/>
<path d="M2926.4 408.9L2940.4 416L2926.4 423.1Z"/>
<text x="909.88" y="202" font-size="41.5" textLength="91.14" lengthAdjust="spacingAndGlyphs">Time</text>
<path d="M836.9 215H1051.1V220H836.9Z"/>
<path d="M1050.1 210.4L1064.1 217.5L1050.1 224.6Z"/>
<text x="575.97" y="674.8" font-size="41.5" textLength="755.18" lengthAdjust="spacingAndGlyphs">Tube masking with a extremely high ratio</text>
<path d="M1312.8 419H1370V424H1312.8Z"/>
<path d="M1369 414.4L1383 421.5L1369 428.6Z"/>
<g transform="matrix(1,-0.6850,0,1,553.4,379.2)">
<rect x="0" y="0" width="185.9" height="234.6" fill="#bfbfbf"/>
<g transform="translate(148.72 0)" clip-path="url(#ccell)"><g filter="url(#b1c)"><rect width="38" height="48" fill="#dfe1f1"/></g></g>
<g transform="translate(111.54 46.92)" clip-path="url(#ccell)"><g filter="url(#b1c)"><rect width="38" height="48" fill="url(#skc0)"/><ellipse cx="5" cy="45" rx="5" ry="3.6" fill="#50634f"/><ellipse cx="21" cy="47" rx="6" ry="2.6" fill="#5b6d5c"/><ellipse cx="32" cy="47.5" rx="5" ry="1.6" fill="#7a8a80"/></g></g>
<g transform="translate(0 93.84)" clip-path="url(#ccell)"><g filter="url(#b1c)"><rect width="38" height="48" fill="#dfe3ee"/><rect x="14" y="3" width="24" height="17" fill="#e9ecf0"/><rect x="14" y="3" width="24" height="3" fill="#aeb6c2"/><path d="M17 10h3M23 10.5h3M29 11h3M35 11.5h3" stroke="#56606e" stroke-width="3"/><ellipse cx="8" cy="12" rx="10" ry="11" fill="#566858"/><ellipse cx="5" cy="8" rx="5" ry="5" fill="#6f8272"/><ellipse cx="18" cy="18" rx="5" ry="5" fill="#5d7060"/><polygon points="0,21 38,24 38,30 0,27" fill="#454d55"/><polygon points="0,26 38,29 38,48 0,48" fill="#6a9444"/><ellipse cx="9" cy="33" rx="4" ry="2.4" fill="#3f5a33"/><ellipse cx="20" cy="44" rx="20" ry="4" fill="#5f8f3b"/></g></g>
<g transform="translate(74.36 93.84)" clip-path="url(#ccell)"><g filter="url(#b1c)"><rect width="38" height="48" fill="#e7e8ee"/><rect x="0" y="6" width="38" height="14" fill="#f1f1f3"/><path d="M3 12h3M10 12.4h3M17 12.8h3M24 13.2h3M31 13.6h3" stroke="#8a8f9c" stroke-width="3.4"/><polygon points="0,20 38,23 38,27 0,24" fill="#7b7f86"/><polygon points="0,24 38,27 38,48 0,48" fill="#d8cfba"/></g></g>
<g transform="translate(74.36 187.68)" clip-path="url(#ccell)"><g filter="url(#b1c)"><rect width="38" height="48" fill="#4f7f2d"/><polygon points="0,0 38,0 38,10 0,14" fill="#66603c"/><ellipse cx="16" cy="30" rx="16" ry="10" fill="#588737"/><ellipse cx="26" cy="42" rx="14" ry="5" fill="#3f6d24"/><ellipse cx="29" cy="5" rx="8" ry="6.5" fill="#2b2622"/></g></g>
<path d="M37.18 0V234.6M74.36 0V234.6M111.54 0V234.6M148.72 0V234.6" stroke="#fff" stroke-width="1.05" fill="none"/>
<path d="M0 46.92H185.9M0 93.84H185.9M0 140.76H185.9M0 187.68H185.9" stroke="#fff" stroke-width="1.5" fill="none"/>
</g>
<g transform="matrix(1,-0.6850,0,1,739.3,378.3)">
<rect x="0" y="0" width="185.9" height="234.6" fill="#bfbfbf"/>
<g transform="translate(148.72 0)" clip-path="url(#ccell)"><g filter="url(#b1c)"><rect width="38" height="48" fill="#dfe1f1"/></g></g>
<g transform="translate(111.54 46.92)" clip-path="url(#ccell)"><g filter="url(#b1c)"><rect width="38" height="48" fill="url(#skc1)"/><ellipse cx="5" cy="45" rx="5" ry="3.6" fill="#50634f"/><ellipse cx="21" cy="47" rx="6" ry="2.6" fill="#5b6d5c"/><ellipse cx="32" cy="47.5" rx="5" ry="1.6" fill="#7a8a80"/></g></g>
<g transform="translate(0 93.84)" clip-path="url(#ccell)"><g filter="url(#b1c)"><rect width="38" height="48" fill="#dfe3ee"/><rect x="14" y="3" width="24" height="17" fill="#e9ecf0"/><rect x="14" y="3" width="24" height="3" fill="#aeb6c2"/><path d="M17 10h3M23 10.5h3M29 11h3M35 11.5h3" stroke="#56606e" stroke-width="3"/><ellipse cx="8" cy="12" rx="10" ry="11" fill="#566858"/><ellipse cx="5" cy="8" rx="5" ry="5" fill="#6f8272"/><ellipse cx="18" cy="18" rx="5" ry="5" fill="#5d7060"/><polygon points="0,21 38,24 38,30 0,27" fill="#454d55"/><polygon points="0,26 38,29 38,48 0,48" fill="#6a9444"/><ellipse cx="9" cy="33" rx="4" ry="2.4" fill="#3f5a33"/><ellipse cx="20" cy="44" rx="20" ry="4" fill="#5f8f3b"/></g></g>
<g transform="translate(74.36 93.84)" clip-path="url(#ccell)"><g filter="url(#b1c)"><rect width="38" height="48" fill="#e7e8ee"/><rect x="0" y="6" width="38" height="14" fill="#f1f1f3"/><path d="M3 12h3M10 12.4h3M17 12.8h3M24 13.2h3M31 13.6h3" stroke="#8a8f9c" stroke-width="3.4"/><polygon points="0,20 38,23 38,27 0,24" fill="#7b7f86"/><polygon points="0,24 38,27 38,48 0,48" fill="#d8cfba"/></g></g>
<g transform="translate(74.36 187.68)" clip-path="url(#ccell)"><g filter="url(#b1c)"><rect width="38" height="48" fill="#4f7f2d"/><polygon points="0,0 38,0 38,10 0,14" fill="#66603c"/><ellipse cx="16" cy="30" rx="16" ry="10" fill="#588737"/><ellipse cx="26" cy="42" rx="14" ry="5" fill="#3f6d24"/><ellipse cx="29" cy="5" rx="8" ry="6.5" fill="#2b2622"/></g></g>
<path d="M37.18 0V234.6M74.36 0V234.6M111.54 0V234.6M148.72 0V234.6M0 0V234.6" stroke="#fff" stroke-width="1.05" fill="none"/>
<path d="M0 46.92H185.9M0 93.84H185.9M0 140.76H185.9M0 187.68H185.9" stroke="#fff" stroke-width="1.5" fill="none"/>
</g>
<g transform="matrix(1,-0.6850,0,1,925.6,377.4)">
<rect x="0" y="0" width="185.9" height="234.6" fill="#bfbfbf"/>
<g transform="translate(148.72 0)" clip-path="url(#ccell)"><g filter="url(#b1c)"><rect width="38" height="48" fill="#d6daf0"/></g></g>
<g transform="translate(111.54 46.92)" clip-path="url(#ccell)"><g filter="url(#b1c)"><rect width="38" height="48" fill="url(#skc2)"/><ellipse cx="5" cy="45" rx="5" ry="3.6" fill="#50634f"/><ellipse cx="21" cy="47" rx="6" ry="2.6" fill="#5b6d5c"/><ellipse cx="32" cy="47.5" rx="5" ry="1.6" fill="#7a8a80"/></g></g>
<g transform="translate(0 93.84)" clip-path="url(#ccell)"><g filter="url(#b1c)"><rect width="38" height="48" fill="#dfe3ee"/><rect x="14" y="3" width="24" height="17" fill="#e9ecf0"/><rect x="14" y="3" width="24" height="3" fill="#aeb6c2"/><path d="M17 10h3M23 10.5h3M29 11h3M35 11.5h3" stroke="#56606e" stroke-width="3"/><ellipse cx="8" cy="12" rx="10" ry="11" fill="#566858"/><ellipse cx="5" cy="8" rx="5" ry="5" fill="#6f8272"/><ellipse cx="18" cy="18" rx="5" ry="5" fill="#5d7060"/><polygon points="0,21 38,24 38,30 0,27" fill="#454d55"/><polygon points="0,26 38,29 38,48 0,48" fill="#6a9444"/><ellipse cx="9" cy="33" rx="4" ry="2.4" fill="#3f5a33"/><ellipse cx="20" cy="44" rx="20" ry="4" fill="#5f8f3b"/></g></g>
<g transform="translate(74.36 93.84)" clip-path="url(#ccell)"><g filter="url(#b1c)"><rect width="38" height="48" fill="#e7e8ee"/><rect x="0" y="6" width="38" height="14" fill="#f1f1f3"/><path d="M3 12h3M10 12.4h3M17 12.8h3M24 13.2h3M31 13.6h3" stroke="#8a8f9c" stroke-width="3.4"/><polygon points="0,20 38,23 38,27 0,24" fill="#7b7f86"/><polygon points="0,24 38,27 38,48 0,48" fill="#dcd2cc"/><ellipse cx="24" cy="12" rx="5" ry="5.5" fill="#8a6a6c"/><polygon points="12,20 20,13 34,15 36,48 10,48" fill="#63636b"/><polygon points="4,30 14,24 14,40 6,42" fill="#75757d"/></g></g>
<g transform="translate(74.36 187.68)" clip-path="url(#ccell)"><g filter="url(#b1c)"><rect width="38" height="48" fill="#4f7f2d"/><polygon points="0,0 38,0 38,10 0,14" fill="#66603c"/><ellipse cx="16" cy="30" rx="16" ry="10" fill="#588737"/><ellipse cx="26" cy="42" rx="14" ry="5" fill="#3f6d24"/><ellipse cx="31" cy="7" rx="6" ry="9" fill="#1f1d1c"/></g></g>
<path d="M37.18 0V234.6M74.36 0V234.6M111.54 0V234.6M148.72 0V234.6M0 0V234.6" stroke="#fff" stroke-width="1.05" fill="none"/>
<path d="M0 46.92H185.9M0 93.84H185.9M0 140.76H185.9M0 187.68H185.9" stroke="#fff" stroke-width="1.5" fill="none"/>
</g>
<g transform="matrix(1,-0.6850,0,1,1111.5,376.5)">
<rect x="0" y="0" width="185.9" height="234.6" fill="#bfbfbf"/>
<g transform="translate(148.72 0)" clip-path="url(#ccell)"><g filter="url(#b1c)"><rect width="38" height="48" fill="#d6daf0"/></g></g>
<g transform="translate(111.54 46.92)" clip-path="url(#ccell)"><g filter="url(#b1c)"><rect width="38" height="48" fill="url(#skc3)"/><ellipse cx="5" cy="45" rx="5" ry="3.6" fill="#50634f"/><ellipse cx="21" cy="47" rx="6" ry="2.6" fill="#5b6d5c"/><ellipse cx="32" cy="47.5" rx="5" ry="1.6" fill="#7a8a80"/></g></g>
<g transform="translate(0 93.84)" clip-path="url(#ccell)"><g filter="url(#b1c)"><rect width="38" height="48" fill="#dfe3ee"/><rect x="14" y="3" width="24" height="17" fill="#e9ecf0"/><rect x="14" y="3" width="24" height="3" fill="#aeb6c2"/><path d="M17 10h3M23 10.5h3M29 11h3M35 11.5h3" stroke="#56606e" stroke-width="3"/><ellipse cx="8" cy="12" rx="10" ry="11" fill="#566858"/><ellipse cx="5" cy="8" rx="5" ry="5" fill="#6f8272"/><ellipse cx="18" cy="18" rx="5" ry="5" fill="#5d7060"/><polygon points="0,21 38,24 38,30 0,27" fill="#454d55"/><polygon points="0,26 38,29 38,48 0,48" fill="#6a9444"/><ellipse cx="9" cy="33" rx="4" ry="2.4" fill="#3f5a33"/><ellipse cx="20" cy="44" rx="20" ry="4" fill="#5f8f3b"/></g></g>
<g transform="translate(74.36 93.84)" clip-path="url(#ccell)"><g filter="url(#b1c)"><rect width="38" height="48" fill="#e7e8ee"/><rect x="0" y="6" width="38" height="14" fill="#f1f1f3"/><path d="M3 12h3M10 12.4h3M17 12.8h3M24 13.2h3M31 13.6h3" stroke="#8a8f9c" stroke-width="3.4"/><polygon points="0,20 38,23 38,27 0,24" fill="#7b7f86"/><polygon points="0,24 38,27 38,48 0,48" fill="#dcd2cc"/><ellipse cx="14" cy="13" rx="5" ry="5.5" fill="#8a6a6c"/><polygon points="4,22 10,15 22,16 26,30 24,48 5,48" fill="#66666e"/><ellipse cx="31" cy="22" rx="3" ry="6" fill="#c9c4c4"/></g></g>
<g transform="translate(74.36 187.68)" clip-path="url(#ccell)"><g filter="url(#b1c)"><rect width="38" height="48" fill="#4f7f2d"/><polygon points="0,0 38,0 38,10 0,14" fill="#66603c"/><ellipse cx="16" cy="30" rx="16" ry="10" fill="#588737"/><ellipse cx="26" cy="42" rx="14" ry="5" fill="#3f6d24"/><polygon points="0,0 20,0 22,12 16,26 4,24 0,14" fill="#1d1c1e"/><polygon points="20,0 38,0 38,8 22,10" fill="#2a2623"/></g></g>
<path d="M37.18 0V234.6M74.36 0V234.6M111.54 0V234.6M148.72 0V234.6M0 0V234.6" stroke="#fff" stroke-width="1.05" fill="none"/>
<path d="M0 46.92H185.9M0 93.84H185.9M0 140.76H185.9M0 187.68H185.9" stroke="#fff" stroke-width="1.5" fill="none"/>
</g>
<polygon points="702.12,324.25 702.12,277.33 739.3,251.86 1297.4,249.16 1297.4,296.08 1260.22,321.55" fill="#bdbdbd" fill-opacity="0.5"/>
<path d="M739.3 251.86L1297.4 249.16L1297.4 296.08M702.12 324.25L1260.22 321.55" stroke="#a3a3a3" stroke-width="1.6" fill="none"/>
<polygon points="627.76,469.02 627.76,422.1 664.94,396.64 1223.04,393.94 1223.04,440.86 1185.86,466.32" fill="#9dc3e6" fill-opacity="0.56"/>
<path d="M627.76 469.02L627.76 422.1L664.94 396.64L1223.04 393.94L1223.04 440.86L1185.86 466.32Z" stroke="#a2c8ec" stroke-width="1.9" fill="none"/>
<g transform="matrix(1,-0.6850,0,1,553.4,379.2)"><g transform="translate(148.72 0)" clip-path="url(#ccell)"><g filter="url(#b1c)"><rect width="38" height="48" fill="#dfe1f1"/></g></g></g>
<polygon points="703.12,277.64 738.3,253.54 738.3,298.46 703.12,322.56" fill="#e0524a" fill-opacity="0.47" stroke="#ea5f5d" stroke-width="2.1" stroke-linejoin="miter"/>
<g transform="matrix(1,-0.6850,0,1,553.4,379.2)"><g transform="translate(74.36 93.84)" clip-path="url(#ccell)"><g filter="url(#b1c)"><rect width="38" height="48" fill="#e7e8ee"/><rect x="0" y="6" width="38" height="14" fill="#f1f1f3"/><path d="M3 12h3M10 12.4h3M17 12.8h3M24 13.2h3M31 13.6h3" stroke="#8a8f9c" stroke-width="3.4"/><polygon points="0,20 38,23 38,27 0,24" fill="#7b7f86"/><polygon points="0,24 38,27 38,48 0,48" fill="#d8cfba"/></g></g></g>
<polygon points="628.76,422.42 663.94,398.32 663.94,443.24 628.76,467.34" fill="#e0524a" fill-opacity="0.47" stroke="#ea5f5d" stroke-width="2.1" stroke-linejoin="miter"/>
<g transform="matrix(1,-0.6850,0,1,739.3,378.3)"><g transform="translate(148.72 0)" clip-path="url(#ccell)"><g filter="url(#b1c)"><rect width="38" height="48" fill="#dfe1f1"/></g></g></g>
<polygon points="889.02,276.74 924.2,252.64 924.2,297.56 889.02,321.66" fill="#e0524a" fill-opacity="0.47" stroke="#ea5f5d" stroke-width="2.1" stroke-linejoin="miter"/>
<g transform="matrix(1,-0.6850,0,1,739.3,378.3)"><g transform="translate(74.36 93.84)" clip-path="url(#ccell)"><g filter="url(#b1c)"><rect width="38" height="48" fill="#e7e8ee"/><rect x="0" y="6" width="38" height="14" fill="#f1f1f3"/><path d="M3 12h3M10 12.4h3M17 12.8h3M24 13.2h3M31 13.6h3" stroke="#8a8f9c" stroke-width="3.4"/><polygon points="0,20 38,23 38,27 0,24" fill="#7b7f86"/><polygon points="0,24 38,27 38,48 0,48" fill="#d8cfba"/></g></g></g>
<polygon points="814.66,421.52 849.84,397.42 849.84,442.34 814.66,466.44" fill="#e0524a" fill-opacity="0.47" stroke="#ea5f5d" stroke-width="2.1" stroke-linejoin="miter"/>
<g transform="matrix(1,-0.6850,0,1,925.6,377.4)"><g transform="translate(148.72 0)" clip-path="url(#ccell)"><g filter="url(#b1c)"><rect width="38" height="48" fill="#d6daf0"/></g></g></g>
<polygon points="1075.32,275.84 1110.5,251.74 1110.5,296.66 1075.32,320.76" fill="#e0524a" fill-opacity="0.47" stroke="#ea5f5d" stroke-width="2.1" stroke-linejoin="miter"/>
<g transform="matrix(1,-0.6850,0,1,925.6,377.4)"><g transform="translate(74.36 93.84)" clip-path="url(#ccell)"><g filter="url(#b1c)"><rect width="38" height="48" fill="#e7e8ee"/><rect x="0" y="6" width="38" height="14" fill="#f1f1f3"/><path d="M3 12h3M10 12.4h3M17 12.8h3M24 13.2h3M31 13.6h3" stroke="#8a8f9c" stroke-width="3.4"/><polygon points="0,20 38,23 38,27 0,24" fill="#7b7f86"/><polygon points="0,24 38,27 38,48 0,48" fill="#dcd2cc"/><ellipse cx="24" cy="12" rx="5" ry="5.5" fill="#8a6a6c"/><polygon points="12,20 20,13 34,15 36,48 10,48" fill="#63636b"/><polygon points="4,30 14,24 14,40 6,42" fill="#75757d"/></g></g></g>
<polygon points="1000.96,420.62 1036.14,396.52 1036.14,441.44 1000.96,465.54" fill="#e0524a" fill-opacity="0.47" stroke="#ea5f5d" stroke-width="2.1" stroke-linejoin="miter"/>
<g transform="matrix(1,-0.6850,0,1,1111.5,376.5)"><g transform="translate(148.72 0)" clip-path="url(#ccell)"><g filter="url(#b1c)"><rect width="38" height="48" fill="#d6daf0"/></g></g></g>
<polygon points="1261.22,274.94 1296.4,250.84 1296.4,295.76 1261.22,319.86" fill="#e0524a" fill-opacity="0.47" stroke="#ea5f5d" stroke-width="2.1" stroke-linejoin="miter"/>
<g transform="matrix(1,-0.6850,0,1,1111.5,376.5)"><g transform="translate(74.36 93.84)" clip-path="url(#ccell)"><g filter="url(#b1c)"><rect width="38" height="48" fill="#e7e8ee"/><rect x="0" y="6" width="38" height="14" fill="#f1f1f3"/><path d="M3 12h3M10 12.4h3M17 12.8h3M24 13.2h3M31 13.6h3" stroke="#8a8f9c" stroke-width="3.4"/><polygon points="0,20 38,23 38,27 0,24" fill="#7b7f86"/><polygon points="0,24 38,27 38,48 0,48" fill="#dcd2cc"/><ellipse cx="14" cy="13" rx="5" ry="5.5" fill="#8a6a6c"/><polygon points="4,22 10,15 22,16 26,30 24,48 5,48" fill="#66666e"/><ellipse cx="31" cy="22" rx="3" ry="6" fill="#c9c4c4"/></g></g></g>
<polygon points="1186.86,419.72 1222.04,395.62 1222.04,440.54 1186.86,464.64" fill="#e0524a" fill-opacity="0.47" stroke="#ea5f5d" stroke-width="2.1" stroke-linejoin="miter"/>
<polygon points="660.3,728.7 672.4,716.9 792.6,716.9 780.5,728.7" fill="#d9e6f4" stroke="#9dc3e6" stroke-width="1.9" stroke-linejoin="round"/>
<polygon points="780.5,728.7 792.6,716.9 792.6,753.2 780.5,765" fill="#b4c8de" stroke="#9dc3e6" stroke-width="1.9" stroke-linejoin="round"/>
<rect x="660.3" y="728.7" width="120.2" height="36.3" fill="#d0e0f1" stroke="#9dc3e6" stroke-width="1.9"/>
<polygon points="981.8,729.8 993.8,717.8 1113.1,717.8 1101.1,729.8" fill="#e4e4e4" stroke="#bcbcbc" stroke-width="1.9" stroke-linejoin="round"/>
<polygon points="1101.1,729.8 1113.1,717.8 1113.1,754.1 1101.1,766.1" fill="#c9c9c9" stroke="#bcbcbc" stroke-width="1.9" stroke-linejoin="round"/>
<rect x="981.8" y="729.8" width="119.3" height="36.3" fill="#dddddd" stroke="#bcbcbc" stroke-width="1.9"/>
<text x="803.09" y="753.5" font-size="41.5" textLength="145.89" lengthAdjust="spacingAndGlyphs">keeping</text>
<text x="1125.34" y="751.6" font-size="41.5" textLength="154.53" lengthAdjust="spacingAndGlyphs">masking</text>
<text x="1439.1" y="200.6" font-size="41.5" textLength="88.88" lengthAdjust="spacingAndGlyphs">Time</text>
<path d="M1426 211.7H1545.1V216.7H1426Z"/>
<path d="M1544.1 207.1L1558.1 214.2L1544.1 221.3Z"/>
<text x="1366.29" y="699.1" font-size="41.5" textLength="275.31" lengthAdjust="spacingAndGlyphs">Tokens w/o [M]</text>
<polygon points="1400.8,236.3 1457.8,236.3 1494,259 1494,318.3 1434.7,318.3 1400.8,292.9" fill="#d3e2f3"/>
<svg x="1400.8" y="236.3" width="57" height="56.6" viewBox="0 0 60 60" preserveAspectRatio="none" overflow="hidden"><g filter="url(#b1t)"><rect x="-5" y="-5" width="70" height="70" fill="#cfd6e4"/><ellipse cx="10" cy="54" rx="9" ry="5" fill="#5b7358"/><rect x="-5" y="57" width="45" height="3" fill="#7a8088"/></g><rect width="60" height="60" fill="#a9c6e6" fill-opacity="0.5"/></svg>
<path d="M1457.8 236.3V259M1400.8 292.9H1434.7" stroke="#9dc3e6" stroke-width="2" fill="none" opacity="0.75"/>
<svg x="1434.7" y="259" width="59.3" height="59.3" viewBox="0 0 60 60" preserveAspectRatio="none" overflow="hidden"><g filter="url(#b1t)"><rect x="-5" y="-5" width="70" height="70" fill="#d7d5de"/><rect x="-5" y="44" width="70" height="20" fill="#dcdae1"/><ellipse cx="14" cy="56" rx="7" ry="5" fill="#4c6a45"/><polygon points="26,60 40,51 56,60" fill="#6d7076"/></g></svg>
<path d="M1400.8 236.3H1457.8L1494 259M1400.8 236.3L1434.7 259M1400.8 236.3V292.9L1434.7 318.3M1434.7 259H1494V318.3H1434.7Z" stroke="#9dc3e6" stroke-width="2.5" fill="none" stroke-linejoin="round" stroke-linecap="round"/>
<polygon points="1512.8,237.1 1569.8,237.1 1606,259.8 1606,319.1 1546.7,319.1 1512.8,293.7" fill="#d3e2f3"/>
<svg x="1512.8" y="237.1" width="57" height="56.6" viewBox="0 0 60 60" preserveAspectRatio="none" overflow="hidden"><g filter="url(#b1t)"><rect x="-5" y="-5" width="70" height="70" fill="#cfd6e4"/><ellipse cx="10" cy="54" rx="9" ry="5" fill="#5b7358"/><rect x="-5" y="57" width="45" height="3" fill="#7a8088"/></g><rect width="60" height="60" fill="#a9c6e6" fill-opacity="0.5"/></svg>
<path d="M1569.8 237.1V259.8M1512.8 293.7H1546.7" stroke="#9dc3e6" stroke-width="2" fill="none" opacity="0.75"/>
<svg x="1546.7" y="259.8" width="59.3" height="59.3" viewBox="0 0 60 60" preserveAspectRatio="none" overflow="hidden"><g filter="url(#b1t)"><rect x="-5" y="-5" width="70" height="70" fill="#c9c6de"/><rect x="-5" y="44" width="70" height="20" fill="#cfcbe0"/><ellipse cx="17" cy="57" rx="7" ry="4" fill="#4c6a45"/><polygon points="34,60 46,55 60,60" fill="#6d7076"/></g></svg>
<path d="M1512.8 237.1H1569.8L1606 259.8M1512.8 237.1L1546.7 259.8M1512.8 237.1V293.7L1546.7 319.1M1546.7 259.8H1606V319.1H1546.7Z" stroke="#9dc3e6" stroke-width="2.5" fill="none" stroke-linejoin="round" stroke-linecap="round"/>
<polygon points="1400.8,336.3 1457.8,336.3 1492.7,357.3 1492.7,416.6 1434,416.6 1400.8,392.9" fill="#d3e2f3"/>
<svg x="1400.8" y="336.3" width="57" height="56.6" viewBox="0 0 60 60" preserveAspectRatio="none" overflow="hidden"><g filter="url(#b1t)"><rect x="-5" y="-5" width="70" height="70" fill="#d6dae2"/><rect x="6" y="2" width="56" height="22" fill="#e4e7ec"/><ellipse cx="14" cy="14" rx="13" ry="11" fill="#6f7f70"/><rect x="-5" y="24" width="70" height="9" fill="#5e656c"/><rect x="-5" y="32" width="70" height="32" fill="#6c9a4c"/><ellipse cx="10" cy="42" rx="5" ry="3.5" fill="#4a6242"/></g><rect width="60" height="60" fill="#a9c6e6" fill-opacity="0.5"/></svg>
<path d="M1457.8 336.3V357.3M1400.8 392.9H1434" stroke="#9dc3e6" stroke-width="2" fill="none" opacity="0.75"/>
<svg x="1434" y="357.3" width="58.7" height="59.3" viewBox="0 0 60 60" preserveAspectRatio="none" overflow="hidden"><g filter="url(#b1t)"><rect x="-5" y="-5" width="70" height="70" fill="#d9dae2"/><rect x="34" y="4" width="30" height="28" fill="#e6e8ea"/><polygon points="34,4 64,0 64,5 34,8" fill="#b7bcc4"/><path d="M40 14h4M48 14h4M56 14h4" stroke="#4e5764" stroke-width="4.5"/><path d="M40 23h4M48 23h4M56 23h4" stroke="#7a828c" stroke-width="3"/><ellipse cx="19" cy="14" rx="22" ry="18" fill="#5a6945"/><ellipse cx="12" cy="10" rx="10" ry="8" fill="#66764e"/><ellipse cx="30" cy="22" rx="8" ry="8" fill="#55633f"/><rect x="-5" y="28" width="70" height="10" fill="#4d5158"/><path d="M3 33h3M10 31h3M18 33h3M27 32h3M36 33h3M45 32h3M53 33h3" stroke="#c6c9d1" stroke-width="3"/><path d="M7 35h2M22 35h2M41 35h2" stroke="#7a3a44" stroke-width="2"/><rect x="-5" y="37" width="70" height="30" fill="#5f8c3a"/><ellipse cx="15" cy="43" rx="5.5" ry="3.4" fill="#34502a"/><rect x="-5" y="52" width="70" height="12" fill="#568033"/></g></svg>
<path d="M1400.8 336.3H1457.8L1492.7 357.3M1400.8 336.3L1434 357.3M1400.8 336.3V392.9L1434 416.6M1434 357.3H1492.7V416.6H1434Z" stroke="#9dc3e6" stroke-width="2.5" fill="none" stroke-linejoin="round" stroke-linecap="round"/>
<polygon points="1512.8,337.1 1569.8,337.1 1604.7,358.1 1604.7,417.4 1546,417.4 1512.8,393.7" fill="#d3e2f3"/>
<svg x="1512.8" y="337.1" width="57" height="56.6" viewBox="0 0 60 60" preserveAspectRatio="none" overflow="hidden"><g filter="url(#b1t)"><rect x="-5" y="-5" width="70" height="70" fill="#d6dae2"/><rect x="6" y="2" width="56" height="22" fill="#e4e7ec"/><ellipse cx="14" cy="14" rx="13" ry="11" fill="#6f7f70"/><rect x="-5" y="24" width="70" height="9" fill="#5e656c"/><rect x="-5" y="32" width="70" height="32" fill="#6c9a4c"/><ellipse cx="40" cy="42" rx="5" ry="3.5" fill="#4a6242"/></g><rect width="60" height="60" fill="#a9c6e6" fill-opacity="0.5"/></svg>
<path d="M1569.8 337.1V358.1M1512.8 393.7H1546" stroke="#9dc3e6" stroke-width="2" fill="none" opacity="0.75"/>
<svg x="1546" y="358.1" width="58.7" height="59.3" viewBox="0 0 60 60" preserveAspectRatio="none" overflow="hidden"><g filter="url(#b1t)"><rect x="-5" y="-5" width="70" height="70" fill="#d9dae2"/><rect x="38" y="6" width="26" height="28" fill="#e2e5ea"/><polygon points="38,6 64,3 64,8 38,10" fill="#b7bcc4"/><path d="M43 16h4M51 16h4M58 16h4" stroke="#4e5764" stroke-width="4.5"/><path d="M43 25h4M51 25h4M58 25h4" stroke="#7a828c" stroke-width="3"/><ellipse cx="24" cy="15" rx="19" ry="17" fill="#5d6b52"/><ellipse cx="18" cy="10" rx="9" ry="8" fill="#6a785c"/><rect x="-5" y="29" width="70" height="10" fill="#50545e"/><path d="M10 34h3M18 32h3M27 34h3M36 33h3M45 34h3M53 33h3" stroke="#c6c9d1" stroke-width="3"/><rect x="-5" y="38" width="70" height="30" fill="#5a8638"/><ellipse cx="20" cy="46" rx="5.5" ry="3.4" fill="#3c5a30"/><rect x="-2" y="-2" width="5" height="40" fill="#3a3f48"/><rect x="3.6" y="0" width="2.4" height="50" fill="#d5d9e2"/></g></svg>
<path d="M1512.8 337.1H1569.8L1604.7 358.1M1512.8 337.1L1546 358.1M1512.8 337.1V393.7L1546 417.4M1546 358.1H1604.7V417.4H1546Z" stroke="#9dc3e6" stroke-width="2.5" fill="none" stroke-linejoin="round" stroke-linecap="round"/>
<polygon points="1401.9,440.3 1458.9,440.3 1494,462.4 1494,520.7 1435,520.7 1401.9,496.9" fill="#d3e2f3"/>
<svg x="1401.9" y="440.3" width="57" height="56.6" viewBox="0 0 60 60" preserveAspectRatio="none" overflow="hidden"><g filter="url(#b1t)"><rect x="-5" y="-5" width="70" height="70" fill="#cdd2d8"/><rect x="28" y="6" width="34" height="16" fill="#eceef2"/><ellipse cx="12" cy="16" rx="12" ry="10" fill="#74857a"/><rect x="-5" y="24" width="70" height="8" fill="#6a7076"/><rect x="-5" y="31" width="70" height="34" fill="#6c9a50"/><ellipse cx="9" cy="38" rx="4" ry="3" fill="#4a6242"/></g><rect width="60" height="60" fill="#a9c6e6" fill-opacity="0.5"/></svg>
<path d="M1458.9 440.3V462.4M1401.9 496.9H1435" stroke="#9dc3e6" stroke-width="2" fill="none" opacity="0.75"/>
<svg x="1435" y="462.4" width="59" height="58.3" viewBox="0 0 60 60" preserveAspectRatio="none" overflow="hidden"><g filter="url(#b1t)"><rect x="-5" y="-5" width="70" height="70" fill="#c9ccd2"/><rect x="0" y="2" width="26" height="22" fill="#e9ebee"/><path d="M3 10h4M11 10h4M19 10h4" stroke="#59616d" stroke-width="4"/><rect x="26" y="0" width="36" height="16" fill="#a9aeb6"/><ellipse cx="36" cy="20" rx="12" ry="8" fill="#6c7f62"/><rect x="-5" y="26" width="70" height="9" fill="#555a60"/><path d="M4 30h3M14 29h3M26 30h3" stroke="#d5d5da" stroke-width="2.4"/><rect x="-5" y="34" width="70" height="32" fill="#5a8a37"/><rect x="42" y="17" width="9" height="17" fill="#efefef"/><rect x="43" y="33" width="7" height="17" fill="#2a2c33"/><ellipse cx="46.5" cy="15" rx="3.5" ry="4" fill="#c9a398"/><rect x="53" y="20" width="6" height="26" fill="#b7343c"/><polygon points="0,46 14,42 24,50 26,60 0,60" fill="#17171b"/></g></svg>
<path d="M1401.9 440.3H1458.9L1494 462.4M1401.9 440.3L1435 462.4M1401.9 440.3V496.9L1435 520.7M1435 462.4H1494V520.7H1435Z" stroke="#9dc3e6" stroke-width="2.5" fill="none" stroke-linejoin="round" stroke-linecap="round"/>
<polygon points="1513.9,441.1 1570.9,441.1 1606,463.2 1606,521.5 1547,521.5 1513.9,497.7" fill="#d3e2f3"/>
<svg x="1513.9" y="441.1" width="57" height="56.6" viewBox="0 0 60 60" preserveAspectRatio="none" overflow="hidden"><g filter="url(#b1t)"><rect x="-5" y="-5" width="70" height="70" fill="#cdd2d8"/><rect x="28" y="6" width="34" height="16" fill="#eceef2"/><ellipse cx="12" cy="16" rx="12" ry="10" fill="#74857a"/><rect x="-5" y="24" width="70" height="8" fill="#6a7076"/><rect x="-5" y="31" width="70" height="34" fill="#6c9a50"/><polygon points="14,40 26,12 44,4 60,10 60,60 10,60" fill="#3c3e46"/><ellipse cx="42" cy="10" rx="10" ry="8" fill="#b08890"/></g><rect width="60" height="60" fill="#a9c6e6" fill-opacity="0.5"/></svg>
<path d="M1570.9 441.1V463.2M1513.9 497.7H1547" stroke="#9dc3e6" stroke-width="2" fill="none" opacity="0.75"/>
<svg x="1547" y="463.2" width="59" height="58.3" viewBox="0 0 60 60" preserveAspectRatio="none" overflow="hidden"><g filter="url(#b1t)"><rect x="-5" y="-5" width="70" height="70" fill="#c9ccd2"/><rect x="30" y="4" width="32" height="18" fill="#9ea3ab"/><rect x="36" y="10" width="26" height="10" fill="#dfe1e6"/><rect x="-5" y="24" width="70" height="8" fill="#666b70"/><rect x="-5" y="31" width="70" height="34" fill="#5a8a37"/><ellipse cx="42" cy="28" rx="8" ry="5" fill="#4f7340"/><polygon points="4,18 12,10 26,10 32,22 36,60 2,60 0,34" fill="#19191e"/><ellipse cx="15" cy="8" rx="8" ry="7" fill="#c98792"/><rect x="53" y="20" width="8" height="34" fill="#24262c"/><ellipse cx="56" cy="18" rx="3" ry="3.5" fill="#c8b0a8"/></g></svg>
<path d="M1513.9 441.1H1570.9L1606 463.2M1513.9 441.1L1547 463.2M1513.9 441.1V497.7L1547 521.5M1547 463.2H1606V521.5H1547Z" stroke="#9dc3e6" stroke-width="2.5" fill="none" stroke-linejoin="round" stroke-linecap="round"/>
<polygon points="1400.2,546.4 1457.2,546.4 1494,566.4 1494,625.8 1435,625.8 1400.2,603" fill="#d3e2f3"/>
<svg x="1400.2" y="546.4" width="57" height="56.6" viewBox="0 0 60 60" preserveAspectRatio="none" overflow="hidden"><g filter="url(#b1t)"><rect x="-5" y="-5" width="70" height="70" fill="#5f8a48"/><rect x="-5" y="-5" width="70" height="14" fill="#6d6a58"/><polygon points="26,-2 44,-2 42,22 34,20" fill="#3a3a3e"/></g><rect width="60" height="60" fill="#a9c6e6" fill-opacity="0.5"/></svg>
<path d="M1457.2 546.4V566.4M1400.2 603H1435" stroke="#9dc3e6" stroke-width="2" fill="none" opacity="0.75"/>
<svg x="1435" y="566.4" width="59" height="59.4" viewBox="0 0 60 60" preserveAspectRatio="none" overflow="hidden"><g filter="url(#b1t)"><rect x="-5" y="-5" width="70" height="70" fill="#446f29"/><rect x="-5" y="-5" width="70" height="16" fill="#4e4a34"/><ellipse cx="30" cy="34" rx="34" ry="12" fill="#4d7c2e"/><rect x="-5" y="48" width="70" height="16" fill="#3a6123"/><polygon points="28,-2 44,-2 50,14 46,24 38,20" fill="#19181a"/><ellipse cx="46" cy="20" rx="6" ry="4.5" fill="#151416"/></g></svg>
<path d="M1400.2 546.4H1457.2L1494 566.4M1400.2 546.4L1435 566.4M1400.2 546.4V603L1435 625.8M1435 566.4H1494V625.8H1435Z" stroke="#9dc3e6" stroke-width="2.5" fill="none" stroke-linejoin="round" stroke-linecap="round"/>
<polygon points="1512.2,547.2 1569.2,547.2 1606,567.2 1606,626.6 1547,626.6 1512.2,603.8" fill="#d3e2f3"/>
<svg x="1512.2" y="547.2" width="57" height="56.6" viewBox="0 0 60 60" preserveAspectRatio="none" overflow="hidden"><g filter="url(#b1t)"><rect x="-5" y="-5" width="70" height="70" fill="#5f8a48"/><rect x="-5" y="-5" width="70" height="14" fill="#6d6a58"/><polygon points="26,-2 44,-2 42,22 34,20" fill="#3a3a3e"/></g><rect width="60" height="60" fill="#a9c6e6" fill-opacity="0.5"/></svg>
<path d="M1569.2 547.2V567.2M1512.2 603.8H1547" stroke="#9dc3e6" stroke-width="2" fill="none" opacity="0.75"/>
<svg x="1547" y="567.2" width="59" height="59.4" viewBox="0 0 60 60" preserveAspectRatio="none" overflow="hidden"><g filter="url(#b1t)"><rect x="-5" y="-5" width="70" height="70" fill="#446f29"/><rect x="-5" y="-5" width="70" height="16" fill="#4e4a34"/><ellipse cx="30" cy="34" rx="34" ry="12" fill="#4d7c2e"/><rect x="-5" y="48" width="70" height="16" fill="#3a6123"/><polygon points="0,2 8,6 10,22 2,26 0,24" fill="#19181a"/><polygon points="36,-2 54,-2 60,16 60,24 50,22" fill="#19181a"/></g></svg>
<path d="M1512.2 547.2H1569.2L1606 567.2M1512.2 547.2L1547 567.2M1512.2 547.2V603.8L1547 626.6M1547 567.2H1606V626.6H1547Z" stroke="#9dc3e6" stroke-width="2.5" fill="none" stroke-linejoin="round" stroke-linecap="round"/>
<rect x="1643" y="251" width="161.8" height="363" rx="26" fill="#b8d7a3"/>
<text x="1640.95" y="435" font-size="41.5" textLength="156.75" lengthAdjust="spacingAndGlyphs">Encoder</text>
<rect x="2432.5" y="329.6" width="162.4" height="192.3" rx="26" fill="#9dc3e6"/>
<text x="2432.41" y="435" font-size="41.5" textLength="160.59" lengthAdjust="spacingAndGlyphs">Decoder</text>
<path d="M2070.9 418.9H2128.1V423.9H2070.9Z"/>
<path d="M2127.1 414.3L2141.1 421.4L2127.1 428.5Z"/>
<polygon points="1845.9,238.6 1911.4,238.6 1941.9,250.5 1941.9,315 1874.7,315 1845.9,301.4" fill="#eaf3e7"/>
<rect x="1845.9" y="238.6" width="65.5" height="62.8" fill="#d5e8d0"/>
<path d="M1911.4 238.6V250.5M1845.9 301.4H1874.7" stroke="#bbdcae" stroke-width="1.4" fill="none" opacity="0.75"/>
<rect x="1874.7" y="250.5" width="67.2" height="64.5" fill="#d5e8d0"/>
<path d="M1845.9 238.6H1911.4L1941.9 250.5M1845.9 238.6L1874.7 250.5M1845.9 238.6V301.4L1874.7 315M1874.7 250.5H1941.9V315H1874.7Z" stroke="#bbdcae" stroke-width="1.75" fill="none" stroke-linejoin="round" stroke-linecap="round"/>
<polygon points="1958.1,239.7 2023.6,239.7 2054.1,251.6 2054.1,316.1 1986.9,316.1 1958.1,302.5" fill="#eaf3e7"/>
<rect x="1958.1" y="239.7" width="65.5" height="62.8" fill="#d5e8d0"/>
<path d="M2023.6 239.7V251.6M1958.1 302.5H1986.9" stroke="#bbdcae" stroke-width="1.4" fill="none" opacity="0.75"/>
<rect x="1986.9" y="251.6" width="67.2" height="64.5" fill="#d5e8d0"/>
<path d="M1958.1 239.7H2023.6L2054.1 251.6M1958.1 239.7L1986.9 251.6M1958.1 239.7V302.5L1986.9 316.1M1986.9 251.6H2054.1V316.1H1986.9Z" stroke="#bbdcae" stroke-width="1.75" fill="none" stroke-linejoin="round" stroke-linecap="round"/>
<polygon points="1845.9,337.6 1911.4,337.6 1941.9,349.5 1941.9,414 1874.7,414 1845.9,400.4" fill="#eaf3e7"/>
<rect x="1845.9" y="337.6" width="65.5" height="62.8" fill="#d5e8d0"/>
<path d="M1911.4 337.6V349.5M1845.9 400.4H1874.7" stroke="#bbdcae" stroke-width="1.4" fill="none" opacity="0.75"/>
<rect x="1874.7" y="349.5" width="67.2" height="64.5" fill="#d5e8d0"/>
<path d="M1845.9 337.6H1911.4L1941.9 349.5M1845.9 337.6L1874.7 349.5M1845.9 337.6V400.4L1874.7 414M1874.7 349.5H1941.9V414H1874.7Z" stroke="#bbdcae" stroke-width="1.75" fill="none" stroke-linejoin="round" stroke-linecap="round"/>
<polygon points="1957.5,338.6 2023,338.6 2053.5,350.5 2053.5,415 1986.3,415 1957.5,401.4" fill="#eaf3e7"/>
<rect x="1957.5" y="338.6" width="65.5" height="62.8" fill="#d5e8d0"/>
<path d="M2023 338.6V350.5M1957.5 401.4H1986.3" stroke="#bbdcae" stroke-width="1.4" fill="none" opacity="0.75"/>
<rect x="1986.3" y="350.5" width="67.2" height="64.5" fill="#d5e8d0"/>
<path d="M1957.5 338.6H2023L2053.5 350.5M1957.5 338.6L1986.3 350.5M1957.5 338.6V401.4L1986.3 415M1986.3 350.5H2053.5V415H1986.3Z" stroke="#bbdcae" stroke-width="1.75" fill="none" stroke-linejoin="round" stroke-linecap="round"/>
<polygon points="1845.9,441.5 1911.4,441.5 1941.9,453.4 1941.9,517.9 1874.7,517.9 1845.9,504.3" fill="#eaf3e7"/>
<rect x="1845.9" y="441.5" width="65.5" height="62.8" fill="#d5e8d0"/>
<path d="M1911.4 441.5V453.4M1845.9 504.3H1874.7" stroke="#bbdcae" stroke-width="1.4" fill="none" opacity="0.75"/>
<rect x="1874.7" y="453.4" width="67.2" height="64.5" fill="#d5e8d0"/>
<path d="M1845.9 441.5H1911.4L1941.9 453.4M1845.9 441.5L1874.7 453.4M1845.9 441.5V504.3L1874.7 517.9M1874.7 453.4H1941.9V517.9H1874.7Z" stroke="#bbdcae" stroke-width="1.75" fill="none" stroke-linejoin="round" stroke-linecap="round"/>
<polygon points="1957.1,443.7 2022.6,443.7 2053.1,455.6 2053.1,520.1 1985.9,520.1 1957.1,506.5" fill="#eaf3e7"/>
<rect x="1957.1" y="443.7" width="65.5" height="62.8" fill="#d5e8d0"/>
<path d="M2022.6 443.7V455.6M1957.1 506.5H1985.9" stroke="#bbdcae" stroke-width="1.4" fill="none" opacity="0.75"/>
<rect x="1985.9" y="455.6" width="67.2" height="64.5" fill="#d5e8d0"/>
<path d="M1957.1 443.7H2022.6L2053.1 455.6M1957.1 443.7L1985.9 455.6M1957.1 443.7V506.5L1985.9 520.1M1985.9 455.6H2053.1V520.1H1985.9Z" stroke="#bbdcae" stroke-width="1.75" fill="none" stroke-linejoin="round" stroke-linecap="round"/>
<polygon points="1844.2,548.8 1909.7,548.8 1940.2,560.7 1940.2,625.2 1873,625.2 1844.2,611.6" fill="#eaf3e7"/>
<rect x="1844.2" y="548.8" width="65.5" height="62.8" fill="#d5e8d0"/>
<path d="M1909.7 548.8V560.7M1844.2 611.6H1873" stroke="#bbdcae" stroke-width="1.4" fill="none" opacity="0.75"/>
<rect x="1873" y="560.7" width="67.2" height="64.5" fill="#d5e8d0"/>
<path d="M1844.2 548.8H1909.7L1940.2 560.7M1844.2 548.8L1873 560.7M1844.2 548.8V611.6L1873 625.2M1873 560.7H1940.2V625.2H1873Z" stroke="#bbdcae" stroke-width="1.75" fill="none" stroke-linejoin="round" stroke-linecap="round"/>
<polygon points="1958.1,550.8 2023.6,550.8 2054.1,562.7 2054.1,627.2 1986.9,627.2 1958.1,613.6" fill="#eaf3e7"/>
<rect x="1958.1" y="550.8" width="65.5" height="62.8" fill="#d5e8d0"/>
<path d="M2023.6 550.8V562.7M1958.1 613.6H1986.9" stroke="#bbdcae" stroke-width="1.4" fill="none" opacity="0.75"/>
<rect x="1986.9" y="562.7" width="67.2" height="64.5" fill="#d5e8d0"/>
<path d="M1958.1 550.8H2023.6L2054.1 562.7M1958.1 550.8L1986.9 562.7M1958.1 550.8V613.6L1986.9 627.2M1986.9 562.7H2054.1V627.2H1986.9Z" stroke="#bbdcae" stroke-width="1.75" fill="none" stroke-linejoin="round" stroke-linecap="round"/>
<polygon points="2175.9,12.9 2242.7,12.9 2272.1,26.5 2272.1,91.3 2205.1,91.3 2175.9,76.9" fill="#e3e3e3"/>
<rect x="2175.9" y="12.9" width="66.8" height="64" fill="#c0bfbf"/>
<path d="M2242.7 12.9V26.5M2175.9 76.9H2205.1" stroke="#a6a6a6" stroke-width="1.72" fill="none" opacity="0.75"/>
<rect x="2205.1" y="26.5" width="67" height="64.8" fill="#c0bfbf"/>
<path d="M2175.9 12.9H2242.7L2272.1 26.5M2175.9 12.9L2205.1 26.5M2175.9 12.9V76.9L2205.1 91.3M2205.1 26.5H2272.1V91.3H2205.1Z" stroke="#a6a6a6" stroke-width="2.15" fill="none" stroke-linejoin="round" stroke-linecap="round"/>
<polygon points="2299.7,13.6 2366.5,13.6 2395.9,27.2 2395.9,92 2328.9,92 2299.7,77.6" fill="#e3e3e3"/>
<rect x="2299.7" y="13.6" width="66.8" height="64" fill="#c0bfbf"/>
<path d="M2366.5 13.6V27.2M2299.7 77.6H2328.9" stroke="#a6a6a6" stroke-width="1.72" fill="none" opacity="0.75"/>
<rect x="2328.9" y="27.2" width="67" height="64.8" fill="#c0bfbf"/>
<path d="M2299.7 13.6H2366.5L2395.9 27.2M2299.7 13.6L2328.9 27.2M2299.7 13.6V77.6L2328.9 92M2328.9 27.2H2395.9V92H2328.9Z" stroke="#a6a6a6" stroke-width="2.15" fill="none" stroke-linejoin="round" stroke-linecap="round"/>
<polygon points="2177.6,112.9 2244.4,112.9 2273.8,126.5 2273.8,191.3 2206.8,191.3 2177.6,176.9" fill="#e3e3e3"/>
<rect x="2177.6" y="112.9" width="66.8" height="64" fill="#c0bfbf"/>
<path d="M2244.4 112.9V126.5M2177.6 176.9H2206.8" stroke="#a6a6a6" stroke-width="1.72" fill="none" opacity="0.75"/>
<rect x="2206.8" y="126.5" width="67" height="64.8" fill="#c0bfbf"/>
<path d="M2177.6 112.9H2244.4L2273.8 126.5M2177.6 112.9L2206.8 126.5M2177.6 112.9V176.9L2206.8 191.3M2206.8 126.5H2273.8V191.3H2206.8Z" stroke="#a6a6a6" stroke-width="2.15" fill="none" stroke-linejoin="round" stroke-linecap="round"/>
<polygon points="2301.7,113.6 2368.5,113.6 2397.9,127.2 2397.9,192 2330.9,192 2301.7,177.6" fill="#e3e3e3"/>
<rect x="2301.7" y="113.6" width="66.8" height="64" fill="#c0bfbf"/>
<path d="M2368.5 113.6V127.2M2301.7 177.6H2330.9" stroke="#a6a6a6" stroke-width="1.72" fill="none" opacity="0.75"/>
<rect x="2330.9" y="127.2" width="67" height="64.8" fill="#c0bfbf"/>
<path d="M2301.7 113.6H2368.5L2397.9 127.2M2301.7 113.6L2330.9 127.2M2301.7 113.6V177.6L2330.9 192M2330.9 127.2H2397.9V192H2330.9Z" stroke="#a6a6a6" stroke-width="2.15" fill="none" stroke-linejoin="round" stroke-linecap="round"/>
<polygon points="2177,215.3 2243.8,215.3 2273.2,228.9 2273.2,293.7 2206.2,293.7 2177,279.3" fill="#e3e3e3"/>
<rect x="2177" y="215.3" width="66.8" height="64" fill="#c0bfbf"/>
<path d="M2243.8 215.3V228.9M2177 279.3H2206.2" stroke="#a6a6a6" stroke-width="1.72" fill="none" opacity="0.75"/>
<rect x="2206.2" y="228.9" width="67" height="64.8" fill="#c0bfbf"/>
<path d="M2177 215.3H2243.8L2273.2 228.9M2177 215.3L2206.2 228.9M2177 215.3V279.3L2206.2 293.7M2206.2 228.9H2273.2V293.7H2206.2Z" stroke="#a6a6a6" stroke-width="2.15" fill="none" stroke-linejoin="round" stroke-linecap="round"/>
<polygon points="2301.7,216.3 2368.5,216.3 2397.9,229.9 2397.9,294.7 2330.9,294.7 2301.7,280.3" fill="#e3e3e3"/>
<rect x="2301.7" y="216.3" width="66.8" height="64" fill="#c0bfbf"/>
<path d="M2368.5 216.3V229.9M2301.7 280.3H2330.9" stroke="#a6a6a6" stroke-width="1.72" fill="none" opacity="0.75"/>
<rect x="2330.9" y="229.9" width="67" height="64.8" fill="#c0bfbf"/>
<path d="M2301.7 216.3H2368.5L2397.9 229.9M2301.7 216.3L2330.9 229.9M2301.7 216.3V280.3L2330.9 294.7M2330.9 229.9H2397.9V294.7H2330.9Z" stroke="#a6a6a6" stroke-width="2.15" fill="none" stroke-linejoin="round" stroke-linecap="round"/>
<polygon points="2177.2,320.5 2242.6,320.5 2275.1,333.9 2275.1,398.6 2206.5,398.6 2177.2,384" fill="#eaf3e7"/>
<rect x="2177.2" y="320.5" width="65.4" height="63.5" fill="#d5e8d0"/>
<path d="M2242.6 320.5V333.9M2177.2 384H2206.5" stroke="#bbdcae" stroke-width="1.4" fill="none" opacity="0.75"/>
<rect x="2206.5" y="333.9" width="68.6" height="64.7" fill="#d5e8d0"/>
<path d="M2177.2 320.5H2242.6L2275.1 333.9M2177.2 320.5L2206.5 333.9M2177.2 320.5V384L2206.5 398.6M2206.5 333.9H2275.1V398.6H2206.5Z" stroke="#bbdcae" stroke-width="1.75" fill="none" stroke-linejoin="round" stroke-linecap="round"/>
<polygon points="2302.4,321.4 2367.8,321.4 2400.3,334.8 2400.3,399.5 2331.7,399.5 2302.4,384.9" fill="#eaf3e7"/>
<rect x="2302.4" y="321.4" width="65.4" height="63.5" fill="#d5e8d0"/>
<path d="M2367.8 321.4V334.8M2302.4 384.9H2331.7" stroke="#bbdcae" stroke-width="1.4" fill="none" opacity="0.75"/>
<rect x="2331.7" y="334.8" width="68.6" height="64.7" fill="#d5e8d0"/>
<path d="M2302.4 321.4H2367.8L2400.3 334.8M2302.4 321.4L2331.7 334.8M2302.4 321.4V384.9L2331.7 399.5M2331.7 334.8H2400.3V399.5H2331.7Z" stroke="#bbdcae" stroke-width="1.75" fill="none" stroke-linejoin="round" stroke-linecap="round"/>
<polygon points="2174.6,422.7 2241.4,422.7 2270.8,436.3 2270.8,501.1 2203.8,501.1 2174.6,486.7" fill="#e3e3e3"/>
<rect x="2174.6" y="422.7" width="66.8" height="64" fill="#c0bfbf"/>
<path d="M2241.4 422.7V436.3M2174.6 486.7H2203.8" stroke="#a6a6a6" stroke-width="1.72" fill="none" opacity="0.75"/>
<rect x="2203.8" y="436.3" width="67" height="64.8" fill="#c0bfbf"/>
<path d="M2174.6 422.7H2241.4L2270.8 436.3M2174.6 422.7L2203.8 436.3M2174.6 422.7V486.7L2203.8 501.1M2203.8 436.3H2270.8V501.1H2203.8Z" stroke="#a6a6a6" stroke-width="2.15" fill="none" stroke-linejoin="round" stroke-linecap="round"/>
<polygon points="2299,424.4 2365.8,424.4 2395.2,438 2395.2,502.8 2328.2,502.8 2299,488.4" fill="#e3e3e3"/>
<rect x="2299" y="424.4" width="66.8" height="64" fill="#c0bfbf"/>
<path d="M2365.8 424.4V438M2299 488.4H2328.2" stroke="#a6a6a6" stroke-width="1.72" fill="none" opacity="0.75"/>
<rect x="2328.2" y="438" width="67" height="64.8" fill="#c0bfbf"/>
<path d="M2299 424.4H2365.8L2395.2 438M2299 424.4L2328.2 438M2299 424.4V488.4L2328.2 502.8M2328.2 438H2395.2V502.8H2328.2Z" stroke="#a6a6a6" stroke-width="2.15" fill="none" stroke-linejoin="round" stroke-linecap="round"/>
<polygon points="2177.4,556.4 2242.8,556.4 2275.3,569.8 2275.3,634.5 2206.7,634.5 2177.4,619.9" fill="#eaf3e7"/>
<rect x="2177.4" y="556.4" width="65.4" height="63.5" fill="#d5e8d0"/>
<path d="M2242.8 556.4V569.8M2177.4 619.9H2206.7" stroke="#bbdcae" stroke-width="1.4" fill="none" opacity="0.75"/>
<rect x="2206.7" y="569.8" width="68.6" height="64.7" fill="#d5e8d0"/>
<path d="M2177.4 556.4H2242.8L2275.3 569.8M2177.4 556.4L2206.7 569.8M2177.4 556.4V619.9L2206.7 634.5M2206.7 569.8H2275.3V634.5H2206.7Z" stroke="#bbdcae" stroke-width="1.75" fill="none" stroke-linejoin="round" stroke-linecap="round"/>
<polygon points="2301.4,557.4 2366.8,557.4 2399.3,570.8 2399.3,635.5 2330.7,635.5 2301.4,620.9" fill="#eaf3e7"/>
<rect x="2301.4" y="557.4" width="65.4" height="63.5" fill="#d5e8d0"/>
<path d="M2366.8 557.4V570.8M2301.4 620.9H2330.7" stroke="#bbdcae" stroke-width="1.4" fill="none" opacity="0.75"/>
<rect x="2330.7" y="570.8" width="68.6" height="64.7" fill="#d5e8d0"/>
<path d="M2301.4 557.4H2366.8L2399.3 570.8M2301.4 557.4L2330.7 570.8M2301.4 557.4V620.9L2330.7 635.5M2330.7 570.8H2399.3V635.5H2330.7Z" stroke="#bbdcae" stroke-width="1.75" fill="none" stroke-linejoin="round" stroke-linecap="round"/>
<polygon points="2176.4,657.6 2243.2,657.6 2272.6,671.2 2272.6,736 2205.6,736 2176.4,721.6" fill="#e3e3e3"/>
<rect x="2176.4" y="657.6" width="66.8" height="64" fill="#c0bfbf"/>
<path d="M2243.2 657.6V671.2M2176.4 721.6H2205.6" stroke="#a6a6a6" stroke-width="1.72" fill="none" opacity="0.75"/>
<rect x="2205.6" y="671.2" width="67" height="64.8" fill="#c0bfbf"/>
<path d="M2176.4 657.6H2243.2L2272.6 671.2M2176.4 657.6L2205.6 671.2M2176.4 657.6V721.6L2205.6 736M2205.6 671.2H2272.6V736H2205.6Z" stroke="#a6a6a6" stroke-width="2.15" fill="none" stroke-linejoin="round" stroke-linecap="round"/>
<polygon points="2300.4,659.1 2367.2,659.1 2396.6,672.7 2396.6,737.5 2329.6,737.5 2300.4,723.1" fill="#e3e3e3"/>
<rect x="2300.4" y="659.1" width="66.8" height="64" fill="#c0bfbf"/>
<path d="M2367.2 659.1V672.7M2300.4 723.1H2329.6" stroke="#a6a6a6" stroke-width="1.72" fill="none" opacity="0.75"/>
<rect x="2329.6" y="672.7" width="67" height="64.8" fill="#c0bfbf"/>
<path d="M2300.4 659.1H2367.2L2396.6 672.7M2300.4 659.1L2329.6 672.7M2300.4 659.1V723.1L2329.6 737.5M2329.6 672.7H2396.6V737.5H2329.6Z" stroke="#a6a6a6" stroke-width="2.15" fill="none" stroke-linejoin="round" stroke-linecap="round"/>
<polygon points="2177.4,757.3 2244.2,757.3 2273.6,770.9 2273.6,835.7 2206.6,835.7 2177.4,821.3" fill="#e3e3e3"/>
<rect x="2177.4" y="757.3" width="66.8" height="64" fill="#c0bfbf"/>
<path d="M2244.2 757.3V770.9M2177.4 821.3H2206.6" stroke="#a6a6a6" stroke-width="1.72" fill="none" opacity="0.75"/>
<rect x="2206.6" y="770.9" width="67" height="64.8" fill="#c0bfbf"/>
<path d="M2177.4 757.3H2244.2L2273.6 770.9M2177.4 757.3L2206.6 770.9M2177.4 757.3V821.3L2206.6 835.7M2206.6 770.9H2273.6V835.7H2206.6Z" stroke="#a6a6a6" stroke-width="2.15" fill="none" stroke-linejoin="round" stroke-linecap="round"/>
<polygon points="2302.4,758.3 2369.2,758.3 2398.6,771.9 2398.6,836.7 2331.6,836.7 2302.4,822.3" fill="#e3e3e3"/>
<rect x="2302.4" y="758.3" width="66.8" height="64" fill="#c0bfbf"/>
<path d="M2369.2 758.3V771.9M2302.4 822.3H2331.6" stroke="#a6a6a6" stroke-width="1.72" fill="none" opacity="0.75"/>
<rect x="2331.6" y="771.9" width="67" height="64.8" fill="#c0bfbf"/>
<path d="M2302.4 758.3H2369.2L2398.6 771.9M2302.4 758.3L2331.6 771.9M2302.4 758.3V822.3L2331.6 836.7M2331.6 771.9H2398.6V836.7H2331.6Z" stroke="#a6a6a6" stroke-width="2.15" fill="none" stroke-linejoin="round" stroke-linecap="round"/>
<polygon points="2623.1,22 2691.6,22 2720.3,35 2720.3,100 2652.3,100 2623.1,86" fill="#ecf2fa"/>
<rect x="2623.1" y="22" width="68.5" height="64" fill="#dae6f4"/>
<path d="M2691.6 22V35M2623.1 86H2652.3" stroke="#9dc3e6" stroke-width="1.68" fill="none" opacity="0.75"/>
<rect x="2652.3" y="35" width="68" height="65" fill="#dae6f4"/>
<path d="M2623.1 22H2691.6L2720.3 35M2623.1 22L2652.3 35M2623.1 22V86L2652.3 100M2652.3 35H2720.3V100H2652.3Z" stroke="#9dc3e6" stroke-width="2.1" fill="none" stroke-linejoin="round" stroke-linecap="round"/>
<polygon points="2747.5,23.1 2816,23.1 2844.7,36.1 2844.7,101.1 2776.7,101.1 2747.5,87.1" fill="#ecf2fa"/>
<rect x="2747.5" y="23.1" width="68.5" height="64" fill="#dae6f4"/>
<path d="M2816 23.1V36.1M2747.5 87.1H2776.7" stroke="#9dc3e6" stroke-width="1.68" fill="none" opacity="0.75"/>
<rect x="2776.7" y="36.1" width="68" height="65" fill="#dae6f4"/>
<path d="M2747.5 23.1H2816L2844.7 36.1M2747.5 23.1L2776.7 36.1M2747.5 23.1V87.1L2776.7 101.1M2776.7 36.1H2844.7V101.1H2776.7Z" stroke="#9dc3e6" stroke-width="2.1" fill="none" stroke-linejoin="round" stroke-linecap="round"/>
<polygon points="2624.4,122 2692.9,122 2721.6,135 2721.6,200 2653.6,200 2624.4,186" fill="#ecf2fa"/>
<rect x="2624.4" y="122" width="68.5" height="64" fill="#dae6f4"/>
<path d="M2692.9 122V135M2624.4 186H2653.6" stroke="#9dc3e6" stroke-width="1.68" fill="none" opacity="0.75"/>
<rect x="2653.6" y="135" width="68" height="65" fill="#dae6f4"/>
<path d="M2624.4 122H2692.9L2721.6 135M2624.4 122L2653.6 135M2624.4 122V186L2653.6 200M2653.6 135H2721.6V200H2653.6Z" stroke="#9dc3e6" stroke-width="2.1" fill="none" stroke-linejoin="round" stroke-linecap="round"/>
<polygon points="2749.2,123.1 2817.7,123.1 2846.4,136.1 2846.4,201.1 2778.4,201.1 2749.2,187.1" fill="#ecf2fa"/>
<rect x="2749.2" y="123.1" width="68.5" height="64" fill="#dae6f4"/>
<path d="M2817.7 123.1V136.1M2749.2 187.1H2778.4" stroke="#9dc3e6" stroke-width="1.68" fill="none" opacity="0.75"/>
<rect x="2778.4" y="136.1" width="68" height="65" fill="#dae6f4"/>
<path d="M2749.2 123.1H2817.7L2846.4 136.1M2749.2 123.1L2778.4 136.1M2749.2 123.1V187.1L2778.4 201.1M2778.4 136.1H2846.4V201.1H2778.4Z" stroke="#9dc3e6" stroke-width="2.1" fill="none" stroke-linejoin="round" stroke-linecap="round"/>
<polygon points="2624.6,223.9 2693.1,223.9 2721.8,236.9 2721.8,301.9 2653.8,301.9 2624.6,287.9" fill="#ecf2fa"/>
<rect x="2624.6" y="223.9" width="68.5" height="64" fill="#dae6f4"/>
<path d="M2693.1 223.9V236.9M2624.6 287.9H2653.8" stroke="#9dc3e6" stroke-width="1.68" fill="none" opacity="0.75"/>
<rect x="2653.8" y="236.9" width="68" height="65" fill="#dae6f4"/>
<path d="M2624.6 223.9H2693.1L2721.8 236.9M2624.6 223.9L2653.8 236.9M2624.6 223.9V287.9L2653.8 301.9M2653.8 236.9H2721.8V301.9H2653.8Z" stroke="#9dc3e6" stroke-width="2.1" fill="none" stroke-linejoin="round" stroke-linecap="round"/>
<polygon points="2749.5,225 2818,225 2846.7,238 2846.7,303 2778.7,303 2749.5,289" fill="#ecf2fa"/>
<rect x="2749.5" y="225" width="68.5" height="64" fill="#dae6f4"/>
<path d="M2818 225V238M2749.5 289H2778.7" stroke="#9dc3e6" stroke-width="1.68" fill="none" opacity="0.75"/>
<rect x="2778.7" y="238" width="68" height="65" fill="#dae6f4"/>
<path d="M2749.5 225H2818L2846.7 238M2749.5 225L2778.7 238M2749.5 225V289L2778.7 303M2778.7 238H2846.7V303H2778.7Z" stroke="#9dc3e6" stroke-width="2.1" fill="none" stroke-linejoin="round" stroke-linecap="round"/>
<polygon points="2625.9,328.1 2694.4,328.1 2723.1,341.1 2723.1,406.1 2655.1,406.1 2625.9,392.1" fill="#ecf2fa"/>
<rect x="2625.9" y="328.1" width="68.5" height="64" fill="#dae6f4"/>
<path d="M2694.4 328.1V341.1M2625.9 392.1H2655.1" stroke="#9dc3e6" stroke-width="1.68" fill="none" opacity="0.75"/>
<rect x="2655.1" y="341.1" width="68" height="65" fill="#dae6f4"/>
<path d="M2625.9 328.1H2694.4L2723.1 341.1M2625.9 328.1L2655.1 341.1M2625.9 328.1V392.1L2655.1 406.1M2655.1 341.1H2723.1V406.1H2655.1Z" stroke="#9dc3e6" stroke-width="2.1" fill="none" stroke-linejoin="round" stroke-linecap="round"/>
<polygon points="2750.5,329.2 2819,329.2 2847.7,342.2 2847.7,407.2 2779.7,407.2 2750.5,393.2" fill="#ecf2fa"/>
<rect x="2750.5" y="329.2" width="68.5" height="64" fill="#dae6f4"/>
<path d="M2819 329.2V342.2M2750.5 393.2H2779.7" stroke="#9dc3e6" stroke-width="1.68" fill="none" opacity="0.75"/>
<rect x="2779.7" y="342.2" width="68" height="65" fill="#dae6f4"/>
<path d="M2750.5 329.2H2819L2847.7 342.2M2750.5 329.2L2779.7 342.2M2750.5 329.2V393.2L2779.7 407.2M2779.7 342.2H2847.7V407.2H2779.7Z" stroke="#9dc3e6" stroke-width="2.1" fill="none" stroke-linejoin="round" stroke-linecap="round"/>
<polygon points="2622.6,431.6 2691.1,431.6 2719.8,444.6 2719.8,509.6 2651.8,509.6 2622.6,495.6" fill="#ecf2fa"/>
<rect x="2622.6" y="431.6" width="68.5" height="64" fill="#dae6f4"/>
<path d="M2691.1 431.6V444.6M2622.6 495.6H2651.8" stroke="#9dc3e6" stroke-width="1.68" fill="none" opacity="0.75"/>
<rect x="2651.8" y="444.6" width="68" height="65" fill="#dae6f4"/>
<path d="M2622.6 431.6H2691.1L2719.8 444.6M2622.6 431.6L2651.8 444.6M2622.6 431.6V495.6L2651.8 509.6M2651.8 444.6H2719.8V509.6H2651.8Z" stroke="#9dc3e6" stroke-width="2.1" fill="none" stroke-linejoin="round" stroke-linecap="round"/>
<polygon points="2747.5,432.7 2816,432.7 2844.7,445.7 2844.7,510.7 2776.7,510.7 2747.5,496.7" fill="#ecf2fa"/>
<rect x="2747.5" y="432.7" width="68.5" height="64" fill="#dae6f4"/>
<path d="M2816 432.7V445.7M2747.5 496.7H2776.7" stroke="#9dc3e6" stroke-width="1.68" fill="none" opacity="0.75"/>
<rect x="2776.7" y="445.7" width="68" height="65" fill="#dae6f4"/>
<path d="M2747.5 432.7H2816L2844.7 445.7M2747.5 432.7L2776.7 445.7M2747.5 432.7V496.7L2776.7 510.7M2776.7 445.7H2844.7V510.7H2776.7Z" stroke="#9dc3e6" stroke-width="2.1" fill="none" stroke-linejoin="round" stroke-linecap="round"/>
<polygon points="2623.4,564.2 2691.9,564.2 2720.6,577.2 2720.6,642.2 2652.6,642.2 2623.4,628.2" fill="#ecf2fa"/>
<rect x="2623.4" y="564.2" width="68.5" height="64" fill="#dae6f4"/>
<path d="M2691.9 564.2V577.2M2623.4 628.2H2652.6" stroke="#9dc3e6" stroke-width="1.68" fill="none" opacity="0.75"/>
<rect x="2652.6" y="577.2" width="68" height="65" fill="#dae6f4"/>
<path d="M2623.4 564.2H2691.9L2720.6 577.2M2623.4 564.2L2652.6 577.2M2623.4 564.2V628.2L2652.6 642.2M2652.6 577.2H2720.6V642.2H2652.6Z" stroke="#9dc3e6" stroke-width="2.1" fill="none" stroke-linejoin="round" stroke-linecap="round"/>
<polygon points="2749,565.3 2817.5,565.3 2846.2,578.3 2846.2,643.3 2778.2,643.3 2749,629.3" fill="#ecf2fa"/>
<rect x="2749" y="565.3" width="68.5" height="64" fill="#dae6f4"/>
<path d="M2817.5 565.3V578.3M2749 629.3H2778.2" stroke="#9dc3e6" stroke-width="1.68" fill="none" opacity="0.75"/>
<rect x="2778.2" y="578.3" width="68" height="65" fill="#dae6f4"/>
<path d="M2749 565.3H2817.5L2846.2 578.3M2749 565.3L2778.2 578.3M2749 565.3V629.3L2778.2 643.3M2778.2 578.3H2846.2V643.3H2778.2Z" stroke="#9dc3e6" stroke-width="2.1" fill="none" stroke-linejoin="round" stroke-linecap="round"/>
<polygon points="2622.3,666.3 2690.8,666.3 2719.5,679.3 2719.5,744.3 2651.5,744.3 2622.3,730.3" fill="#ecf2fa"/>
<rect x="2622.3" y="666.3" width="68.5" height="64" fill="#dae6f4"/>
<path d="M2690.8 666.3V679.3M2622.3 730.3H2651.5" stroke="#9dc3e6" stroke-width="1.68" fill="none" opacity="0.75"/>
<rect x="2651.5" y="679.3" width="68" height="65" fill="#dae6f4"/>
<path d="M2622.3 666.3H2690.8L2719.5 679.3M2622.3 666.3L2651.5 679.3M2622.3 666.3V730.3L2651.5 744.3M2651.5 679.3H2719.5V744.3H2651.5Z" stroke="#9dc3e6" stroke-width="2.1" fill="none" stroke-linejoin="round" stroke-linecap="round"/>
<polygon points="2747.9,667.4 2816.4,667.4 2845.1,680.4 2845.1,745.4 2777.1,745.4 2747.9,731.4" fill="#ecf2fa"/>
<rect x="2747.9" y="667.4" width="68.5" height="64" fill="#dae6f4"/>
<path d="M2816.4 667.4V680.4M2747.9 731.4H2777.1" stroke="#9dc3e6" stroke-width="1.68" fill="none" opacity="0.75"/>
<rect x="2777.1" y="680.4" width="68" height="65" fill="#dae6f4"/>
<path d="M2747.9 667.4H2816.4L2845.1 680.4M2747.9 667.4L2777.1 680.4M2747.9 667.4V731.4L2777.1 745.4M2777.1 680.4H2845.1V745.4H2777.1Z" stroke="#9dc3e6" stroke-width="2.1" fill="none" stroke-linejoin="round" stroke-linecap="round"/>
<polygon points="2624,766.7 2692.5,766.7 2721.2,779.7 2721.2,844.7 2653.2,844.7 2624,830.7" fill="#ecf2fa"/>
<rect x="2624" y="766.7" width="68.5" height="64" fill="#dae6f4"/>
<path d="M2692.5 766.7V779.7M2624 830.7H2653.2" stroke="#9dc3e6" stroke-width="1.68" fill="none" opacity="0.75"/>
<rect x="2653.2" y="779.7" width="68" height="65" fill="#dae6f4"/>
<path d="M2624 766.7H2692.5L2721.2 779.7M2624 766.7L2653.2 779.7M2624 766.7V830.7L2653.2 844.7M2653.2 779.7H2721.2V844.7H2653.2Z" stroke="#9dc3e6" stroke-width="2.1" fill="none" stroke-linejoin="round" stroke-linecap="round"/>
<polygon points="2749.6,767.9 2818.1,767.9 2846.8,780.9 2846.8,845.9 2778.8,845.9 2749.6,831.9" fill="#ecf2fa"/>
<rect x="2749.6" y="767.9" width="68.5" height="64" fill="#dae6f4"/>
<path d="M2818.1 767.9V780.9M2749.6 831.9H2778.8" stroke="#9dc3e6" stroke-width="1.68" fill="none" opacity="0.75"/>
<rect x="2778.8" y="780.9" width="68" height="65" fill="#dae6f4"/>
<path d="M2749.6 767.9H2818.1L2846.8 780.9M2749.6 767.9L2778.8 780.9M2749.6 767.9V831.9L2778.8 845.9M2778.8 780.9H2846.8V845.9H2778.8Z" stroke="#9dc3e6" stroke-width="2.1" fill="none" stroke-linejoin="round" stroke-linecap="round"/>
<text x="2213.3" y="528.2" font-size="22.5" font-weight="bold" letter-spacing="0.45">...</text>
<text x="2337.4" y="528.8" font-size="22.5" font-weight="bold" letter-spacing="0.45">...</text>
<text x="2659.9" y="537.5" font-size="22.5" font-weight="bold" letter-spacing="0.45">...</text>
<text x="2785.2" y="538.2" font-size="22.5" font-weight="bold" letter-spacing="0.45">...</text>
</svg></body></html>
